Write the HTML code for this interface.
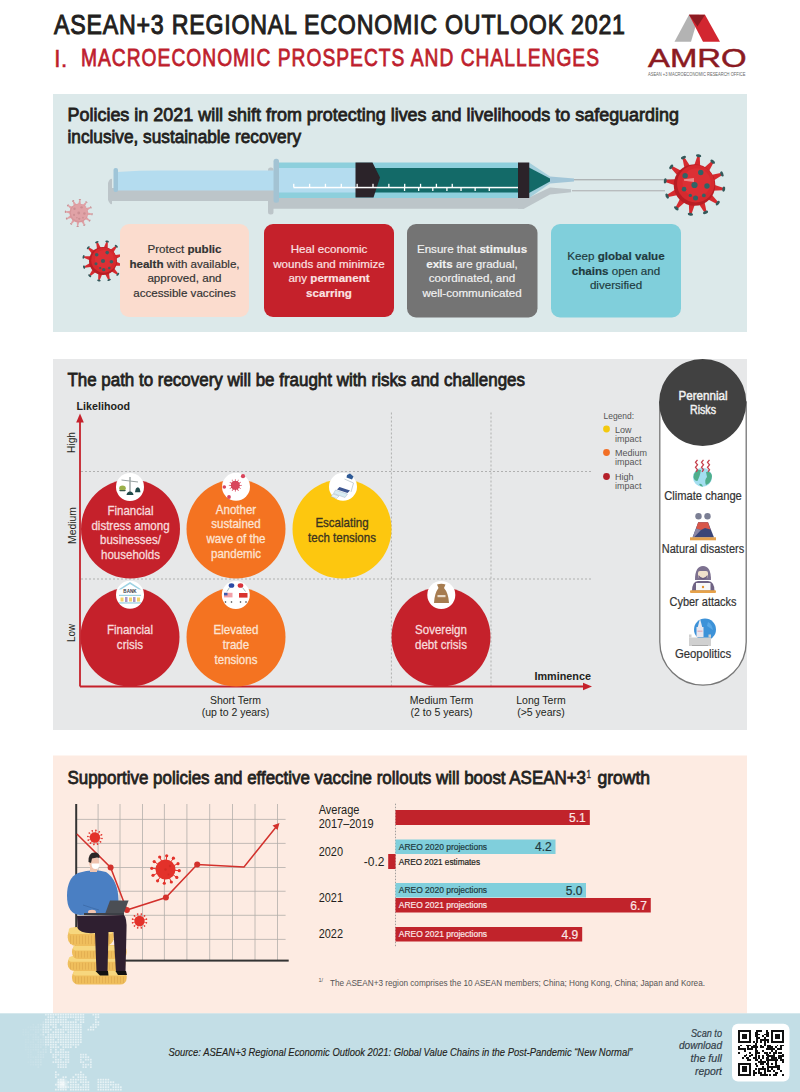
<!DOCTYPE html>
<html><head><meta charset="utf-8"><style>
html,body{margin:0;padding:0;background:#fff;}
svg{display:block;}
text{font-family:"Liberation Sans", sans-serif;}
</style></head><body>
<svg width="800" height="1092" viewBox="0 0 800 1092">
<rect x="0" y="0" width="800" height="1092" fill="#ffffff"/>
<rect x="53" y="94" width="694" height="238" fill="#dce9ea"/>
<rect x="53" y="359" width="694" height="371" fill="#e7e8e9"/>
<rect x="53" y="755.5" width="694" height="258" fill="#fdebe2"/>
<rect x="0" y="1013.3" width="800" height="78.7" fill="#c3dee6"/>
<text x="54" y="34.5" font-size="27" fill="#231f20" font-weight="normal" font-style="normal" text-anchor="start" textLength="663.95" lengthAdjust="spacing" transform="translate(54 0) scale(0.86 1) translate(-54 0)" stroke="#231f20" stroke-width="1.0">ASEAN+3 REGIONAL ECONOMIC OUTLOOK 2021</text>
<text x="54" y="66.5" font-size="24" fill="#be1e2d" font-weight="normal" font-style="normal" text-anchor="start" stroke="#be1e2d" stroke-width="0.4">I.</text>
<text x="81" y="66.5" font-size="24" fill="#be1e2d" font-weight="normal" font-style="normal" text-anchor="start" textLength="647.50" lengthAdjust="spacing" transform="translate(81 0) scale(0.8 1) translate(-81 0)" stroke="#be1e2d" stroke-width="0.8">MACROECONOMIC PROSPECTS AND CHALLENGES</text>
<polygon points="674.5,41.7 689,14.7 699,14.7 691,41.7" fill="#b3b3b3"/>
<polygon points="689,14.7 705,14.7 720,41.7 703,41.7" fill="#d22630"/>
<polygon points="689,14.7 705,14.7 697.5,26.5" fill="#8e1b22"/>
<text x="648" y="66.5" font-size="26" fill="#8b1a22" font-weight="normal" font-style="normal" text-anchor="start" textLength="98.5" lengthAdjust="spacingAndGlyphs" stroke="#8b1a22" stroke-width="0.5">AMRO</text>
<text x="648" y="75.5" font-size="4.6" fill="#666" font-weight="normal" font-style="normal" text-anchor="start" textLength="97.5" lengthAdjust="spacingAndGlyphs" >ASEAN +3 MACROECONOMIC RESEARCH OFFICE</text>
<text x="67.5" y="120.8" font-size="18.5" fill="#231f20" font-weight="normal" font-style="normal" text-anchor="start" textLength="611.5" lengthAdjust="spacingAndGlyphs" stroke="#231f20" stroke-width="0.8">Policies in 2021 will shift from protecting lives and livelihoods to safeguarding</text>
<text x="67.5" y="142.5" font-size="18.5" fill="#231f20" font-weight="normal" font-style="normal" text-anchor="start" textLength="233.5" lengthAdjust="spacingAndGlyphs" stroke="#231f20" stroke-width="0.8">inclusive, sustainable recovery</text>
<rect x="110" y="188" width="165" height="13" fill="#bcc5c9"/>
<path d="M108,183 Q110,178 112,179 L112,204 Q110,205 108,200 Z" fill="#bcc5c9"/>
<rect x="268" y="167.5" width="5.5" height="47" rx="2.5" fill="#bcc5c9"/>
<rect x="273" y="197.5" width="251" height="11.25" fill="#bcc5c9"/>
<polygon points="518,197.5 529,197.5 550,187.5 571,189.3 571,192.3 550,194.5 524,208.75 518,208.75" fill="#bcc5c9"/>
<rect x="572" y="190" width="93" height="1.4" fill="#b8bcbe"/>
<path d="M117,172 Q140,170.6 160,170.6 L274,170.6 L274,190.5 L117,190.5 Z" fill="#b4dcef"/>
<rect x="113.5" y="168" width="4.5" height="24" rx="2" fill="#9fc5d8"/>
<rect x="279" y="162.5" width="239.5" height="35.5" fill="#8dcfdc"/>
<rect x="279" y="168" width="77" height="24.5" fill="#b4dcef"/>
<rect x="372" y="168" width="147" height="24.5" fill="#136a68"/>
<polygon points="355.5,162.5 372.5,162.5 380,177.5 373.5,197.5 355.5,197.5" fill="#2b2329"/>
<rect x="273.5" y="158.7" width="5.5" height="44" rx="2.5" fill="#a3c3d3"/>
<rect x="293.5" y="186.8" width="225" height="1.5" fill="#ffffff"/>
<rect x="293.10" y="183.8" width="1.3" height="3.5" fill="#ffffff"/>
<rect x="308.95" y="183.8" width="1.3" height="3.5" fill="#ffffff"/>
<rect x="324.80" y="183.8" width="1.3" height="3.5" fill="#ffffff"/>
<rect x="340.65" y="183.8" width="1.3" height="3.5" fill="#ffffff"/>
<rect x="356.50" y="183.8" width="1.3" height="3.5" fill="#ffffff"/>
<rect x="372.35" y="183.8" width="1.3" height="3.5" fill="#ffffff"/>
<rect x="388.20" y="183.8" width="1.3" height="3.5" fill="#ffffff"/>
<rect x="404.05" y="183.8" width="1.3" height="3.5" fill="#ffffff"/>
<rect x="419.90" y="183.8" width="1.3" height="3.5" fill="#ffffff"/>
<rect x="435.75" y="183.8" width="1.3" height="3.5" fill="#ffffff"/>
<rect x="451.60" y="183.8" width="1.3" height="3.5" fill="#ffffff"/>
<rect x="403.90" y="187.5" width="1.3" height="3.5" fill="#ffffff"/>
<rect x="418.02" y="187.5" width="1.3" height="3.5" fill="#ffffff"/>
<rect x="432.14" y="187.5" width="1.3" height="3.5" fill="#ffffff"/>
<rect x="446.26" y="187.5" width="1.3" height="3.5" fill="#ffffff"/>
<rect x="460.38" y="187.5" width="1.3" height="3.5" fill="#ffffff"/>
<rect x="474.50" y="187.5" width="1.3" height="3.5" fill="#ffffff"/>
<rect x="488.62" y="187.5" width="1.3" height="3.5" fill="#ffffff"/>
<polygon points="529,162.5 550,176.5 550,183.5 529,198" fill="#a4cfdc"/>
<polygon points="529,167.5 550,178.5 550,181.5 529,193" fill="#136a68"/>
<rect x="518" y="162.5" width="11.25" height="35.5" fill="#2b2329"/>
<polygon points="550,176.5 574,178.6 574,181.4 550,183.5" fill="#a2c6d8"/>
<rect x="574" y="179" width="112" height="1.4" fill="#aeb3b5"/>
<g opacity="1"><polygon points="711.54,190.76 722.75,190.23 723.10,187.76 712.47,184.16" fill="#d62a2f"/><ellipse cx="723.75" cy="189.11" rx="2.70" ry="1.46" transform="rotate(98.0 723.75 189.11)" fill="#33595b"/><polygon points="706.38,198.51 716.35,203.66 717.89,201.69 710.48,193.26" fill="#d62a2f"/><ellipse cx="717.77" cy="203.18" rx="2.70" ry="1.46" transform="rotate(128.0 717.77 203.18)" fill="#33595b"/><polygon points="698.04,202.64 704.10,212.08 706.41,211.15 704.21,200.15" fill="#d62a2f"/><ellipse cx="705.56" cy="212.39" rx="2.70" ry="1.46" transform="rotate(158.0 705.56 212.39)" fill="#33595b"/><polygon points="688.74,202.04 689.27,213.25 691.74,213.60 695.34,202.97" fill="#d62a2f"/><ellipse cx="690.39" cy="214.25" rx="2.70" ry="1.46" transform="rotate(188.0 690.39 214.25)" fill="#33595b"/><polygon points="680.99,196.88 675.84,206.85 677.81,208.39 686.24,200.98" fill="#d62a2f"/><ellipse cx="676.32" cy="208.27" rx="2.70" ry="1.46" transform="rotate(218.0 676.32 208.27)" fill="#33595b"/><polygon points="676.86,188.54 667.42,194.60 668.35,196.91 679.35,194.71" fill="#d62a2f"/><ellipse cx="667.11" cy="196.06" rx="2.70" ry="1.46" transform="rotate(248.0 667.11 196.06)" fill="#33595b"/><polygon points="677.46,179.24 666.25,179.77 665.90,182.24 676.53,185.84" fill="#d62a2f"/><ellipse cx="665.25" cy="180.89" rx="2.70" ry="1.46" transform="rotate(278.0 665.25 180.89)" fill="#33595b"/><polygon points="682.62,171.49 672.65,166.34 671.11,168.31 678.52,176.74" fill="#d62a2f"/><ellipse cx="671.23" cy="166.82" rx="2.70" ry="1.46" transform="rotate(308.0 671.23 166.82)" fill="#33595b"/><polygon points="690.96,167.36 684.90,157.92 682.59,158.85 684.79,169.85" fill="#d62a2f"/><ellipse cx="683.44" cy="157.61" rx="2.70" ry="1.46" transform="rotate(338.0 683.44 157.61)" fill="#33595b"/><polygon points="700.26,167.96 699.73,156.75 697.26,156.40 693.66,167.03" fill="#d62a2f"/><ellipse cx="698.61" cy="155.75" rx="2.70" ry="1.46" transform="rotate(368.0 698.61 155.75)" fill="#33595b"/><polygon points="708.01,173.12 713.16,163.15 711.19,161.61 702.76,169.02" fill="#d62a2f"/><ellipse cx="712.68" cy="161.73" rx="2.70" ry="1.46" transform="rotate(398.0 712.68 161.73)" fill="#33595b"/><polygon points="712.14,181.46 721.58,175.40 720.65,173.09 709.65,175.29" fill="#d62a2f"/><ellipse cx="721.89" cy="173.94" rx="2.70" ry="1.46" transform="rotate(428.0 721.89 173.94)" fill="#33595b"/><circle cx="694.5" cy="185" r="20.8" fill="#b81d24"/><circle cx="695.75" cy="183.75" r="18.72" fill="#d62a2f"/><circle cx="696.58" cy="182.50" r="14.14" fill="#dc3035"/><circle cx="694.50" cy="185.00" r="3.12" fill="#2f6466"/><circle cx="685.14" cy="175.64" r="2.70" fill="#2f6466"/><circle cx="700.74" cy="172.52" r="2.70" fill="#2f6466"/><circle cx="706.98" cy="186.04" r="2.70" fill="#2f6466"/><circle cx="684.10" cy="189.16" r="2.29" fill="#2f6466"/><circle cx="695.54" cy="197.90" r="2.50" fill="#2f6466"/><circle cx="703.86" cy="195.40" r="1.87" fill="#2f6466"/><circle cx="690.34" cy="195.40" r="1.66" fill="#2f6466"/></g>
<polygon points="684,179.3 694,178 694,182 684,180.7" fill="#f0a0a0" opacity="0.8"/>
<g opacity="1"><polygon points="86.58,215.19 91.62,214.69 91.72,213.57 86.84,212.20" fill="#e0a2a6"/><ellipse cx="92.05" cy="214.16" rx="1.22" ry="0.66" transform="rotate(95.0 92.05 214.16)" fill="#c99094"/><polygon points="84.43,218.81 89.05,220.90 89.70,219.98 86.16,216.35" fill="#e0a2a6"/><ellipse cx="89.68" cy="220.66" rx="1.22" ry="0.66" transform="rotate(125.0 89.68 220.66)" fill="#c99094"/><polygon points="80.76,220.88 83.72,224.99 84.74,224.52 83.49,219.61" fill="#e0a2a6"/><ellipse cx="84.39" cy="225.10" rx="1.22" ry="0.66" transform="rotate(155.0 84.39 225.10)" fill="#c99094"/><polygon points="76.56,220.83 77.06,225.87 78.18,225.97 79.55,221.09" fill="#e0a2a6"/><ellipse cx="77.59" cy="226.30" rx="1.22" ry="0.66" transform="rotate(185.0 77.59 226.30)" fill="#c99094"/><polygon points="72.94,218.68 70.85,223.30 71.77,223.95 75.40,220.41" fill="#e0a2a6"/><ellipse cx="71.09" cy="223.93" rx="1.22" ry="0.66" transform="rotate(215.0 71.09 223.93)" fill="#c99094"/><polygon points="70.87,215.01 66.76,217.97 67.23,218.99 72.14,217.74" fill="#e0a2a6"/><ellipse cx="66.65" cy="218.64" rx="1.22" ry="0.66" transform="rotate(245.0 66.65 218.64)" fill="#c99094"/><polygon points="70.92,210.81 65.88,211.31 65.78,212.43 70.66,213.80" fill="#e0a2a6"/><ellipse cx="65.45" cy="211.84" rx="1.22" ry="0.66" transform="rotate(275.0 65.45 211.84)" fill="#c99094"/><polygon points="73.07,207.19 68.45,205.10 67.80,206.02 71.34,209.65" fill="#e0a2a6"/><ellipse cx="67.82" cy="205.34" rx="1.22" ry="0.66" transform="rotate(305.0 67.82 205.34)" fill="#c99094"/><polygon points="76.74,205.12 73.78,201.01 72.76,201.48 74.01,206.39" fill="#e0a2a6"/><ellipse cx="73.11" cy="200.90" rx="1.22" ry="0.66" transform="rotate(335.0 73.11 200.90)" fill="#c99094"/><polygon points="80.94,205.17 80.44,200.13 79.32,200.03 77.95,204.91" fill="#e0a2a6"/><ellipse cx="79.91" cy="199.70" rx="1.22" ry="0.66" transform="rotate(365.0 79.91 199.70)" fill="#c99094"/><polygon points="84.56,207.32 86.65,202.70 85.73,202.05 82.10,205.59" fill="#e0a2a6"/><ellipse cx="86.41" cy="202.07" rx="1.22" ry="0.66" transform="rotate(395.0 86.41 202.07)" fill="#c99094"/><polygon points="86.63,210.99 90.74,208.03 90.27,207.01 85.36,208.26" fill="#e0a2a6"/><ellipse cx="90.85" cy="207.36" rx="1.22" ry="0.66" transform="rotate(425.0 90.85 207.36)" fill="#c99094"/><circle cx="78.75" cy="213" r="9.4" fill="#d8969b"/><circle cx="79.31" cy="212.44" r="8.46" fill="#e0a2a6"/><circle cx="78.75" cy="213.00" r="1.41" fill="#cc8e93"/><circle cx="74.52" cy="208.77" r="1.22" fill="#cc8e93"/><circle cx="81.57" cy="207.36" r="1.22" fill="#cc8e93"/><circle cx="84.39" cy="213.47" r="1.22" fill="#cc8e93"/><circle cx="74.05" cy="214.88" r="1.03" fill="#cc8e93"/><circle cx="79.22" cy="218.83" r="1.13" fill="#cc8e93"/><circle cx="82.98" cy="217.70" r="0.85" fill="#cc8e93"/><circle cx="76.87" cy="217.70" r="0.75" fill="#cc8e93"/></g>
<g opacity="1"><polygon points="114.17,265.67 121.72,265.84 122.07,264.20 115.11,261.28" fill="#d62a2f"/><ellipse cx="122.45" cy="265.13" rx="1.82" ry="0.98" transform="rotate(102.0 122.45 265.13)" fill="#33595b"/><polygon points="110.34,270.63 116.80,274.55 117.92,273.30 113.34,267.30" fill="#d62a2f"/><ellipse cx="117.77" cy="274.30" rx="1.82" ry="0.98" transform="rotate(132.0 117.77 274.30)" fill="#33595b"/><polygon points="104.55,273.01 108.17,279.63 109.77,279.11 108.81,271.63" fill="#d62a2f"/><ellipse cx="109.14" cy="279.91" rx="1.82" ry="0.98" transform="rotate(162.0 109.14 279.91)" fill="#33595b"/><polygon points="98.33,272.17 98.16,279.72 99.80,280.07 102.72,273.11" fill="#d62a2f"/><ellipse cx="98.87" cy="280.45" rx="1.82" ry="0.98" transform="rotate(192.0 98.87 280.45)" fill="#33595b"/><polygon points="93.37,268.34 89.45,274.80 90.70,275.92 96.70,271.34" fill="#d62a2f"/><ellipse cx="89.70" cy="275.77" rx="1.82" ry="0.98" transform="rotate(222.0 89.70 275.77)" fill="#33595b"/><polygon points="90.99,262.55 84.37,266.17 84.89,267.77 92.37,266.81" fill="#d62a2f"/><ellipse cx="84.09" cy="267.14" rx="1.82" ry="0.98" transform="rotate(252.0 84.09 267.14)" fill="#33595b"/><polygon points="91.83,256.33 84.28,256.16 83.93,257.80 90.89,260.72" fill="#d62a2f"/><ellipse cx="83.55" cy="256.87" rx="1.82" ry="0.98" transform="rotate(282.0 83.55 256.87)" fill="#33595b"/><polygon points="95.66,251.37 89.20,247.45 88.08,248.70 92.66,254.70" fill="#d62a2f"/><ellipse cx="88.23" cy="247.70" rx="1.82" ry="0.98" transform="rotate(312.0 88.23 247.70)" fill="#33595b"/><polygon points="101.45,248.99 97.83,242.37 96.23,242.89 97.19,250.37" fill="#d62a2f"/><ellipse cx="96.86" cy="242.09" rx="1.82" ry="0.98" transform="rotate(342.0 96.86 242.09)" fill="#33595b"/><polygon points="107.67,249.83 107.84,242.28 106.20,241.93 103.28,248.89" fill="#d62a2f"/><ellipse cx="107.13" cy="241.55" rx="1.82" ry="0.98" transform="rotate(372.0 107.13 241.55)" fill="#33595b"/><polygon points="112.63,253.66 116.55,247.20 115.30,246.08 109.30,250.66" fill="#d62a2f"/><ellipse cx="116.30" cy="246.23" rx="1.82" ry="0.98" transform="rotate(402.0 116.30 246.23)" fill="#33595b"/><polygon points="115.01,259.45 121.63,255.83 121.11,254.23 113.63,255.19" fill="#d62a2f"/><ellipse cx="121.91" cy="254.86" rx="1.82" ry="0.98" transform="rotate(432.0 121.91 254.86)" fill="#33595b"/><circle cx="103" cy="261" r="14" fill="#b81d24"/><circle cx="103.84" cy="260.16" r="12.60" fill="#d62a2f"/><circle cx="104.40" cy="259.32" r="9.52" fill="#dc3035"/><circle cx="103.00" cy="261.00" r="2.10" fill="#3a5f62"/><circle cx="96.70" cy="254.70" r="1.82" fill="#3a5f62"/><circle cx="107.20" cy="252.60" r="1.82" fill="#3a5f62"/><circle cx="111.40" cy="261.70" r="1.82" fill="#3a5f62"/><circle cx="96.00" cy="263.80" r="1.54" fill="#3a5f62"/><circle cx="103.70" cy="269.68" r="1.68" fill="#3a5f62"/><circle cx="109.30" cy="268.00" r="1.26" fill="#3a5f62"/><circle cx="100.20" cy="268.00" r="1.12" fill="#3a5f62"/></g>
<rect x="120" y="224" width="129" height="93" rx="9" fill="#fbdcce"/>
<rect x="264" y="224" width="130" height="93" rx="9" fill="#c5212b"/>
<rect x="407" y="224" width="130.5" height="93.5" rx="9" fill="#747474"/>
<rect x="551" y="224" width="130" height="93.5" rx="9" fill="#80cfdb"/>
<text x="184.5" y="253" font-size="11.6" fill="#333333" stroke="#333333" stroke-width="0.18" text-anchor="middle"><tspan font-weight="normal">Protect </tspan><tspan font-weight="bold">public</tspan></text>
<text x="184.5" y="267.5" font-size="11.6" fill="#333333" stroke="#333333" stroke-width="0.18" text-anchor="middle"><tspan font-weight="bold">health</tspan><tspan font-weight="normal"> with available,</tspan></text>
<text x="184.5" y="282" font-size="11.6" fill="#333333" stroke="#333333" stroke-width="0.18" text-anchor="middle"><tspan font-weight="normal">approved, and</tspan></text>
<text x="184.5" y="296.5" font-size="11.6" fill="#333333" stroke="#333333" stroke-width="0.18" text-anchor="middle"><tspan font-weight="normal">accessible vaccines</tspan></text>
<text x="329" y="253" font-size="11.6" fill="#fbe3e3" stroke="#fbe3e3" stroke-width="0.18" text-anchor="middle"><tspan font-weight="normal">Heal economic</tspan></text>
<text x="329" y="267.5" font-size="11.6" fill="#fbe3e3" stroke="#fbe3e3" stroke-width="0.18" text-anchor="middle"><tspan font-weight="normal">wounds and minimize</tspan></text>
<text x="329" y="282" font-size="11.6" fill="#fbe3e3" stroke="#fbe3e3" stroke-width="0.18" text-anchor="middle"><tspan font-weight="normal">any </tspan><tspan font-weight="bold">permanent</tspan></text>
<text x="329" y="296.5" font-size="11.6" fill="#fbe3e3" stroke="#fbe3e3" stroke-width="0.18" text-anchor="middle"><tspan font-weight="bold">scarring</tspan></text>
<text x="472" y="253" font-size="11.6" fill="#f2f2f2" stroke="#f2f2f2" stroke-width="0.18" text-anchor="middle"><tspan font-weight="normal">Ensure that </tspan><tspan font-weight="bold">stimulus</tspan></text>
<text x="472" y="267.5" font-size="11.6" fill="#f2f2f2" stroke="#f2f2f2" stroke-width="0.18" text-anchor="middle"><tspan font-weight="bold">exits</tspan><tspan font-weight="normal"> are gradual,</tspan></text>
<text x="472" y="282" font-size="11.6" fill="#f2f2f2" stroke="#f2f2f2" stroke-width="0.18" text-anchor="middle"><tspan font-weight="normal">coordinated, and</tspan></text>
<text x="472" y="296.5" font-size="11.6" fill="#f2f2f2" stroke="#f2f2f2" stroke-width="0.18" text-anchor="middle"><tspan font-weight="normal">well-communicated</tspan></text>
<text x="616" y="260" font-size="11.6" fill="#1f3b40" stroke="#1f3b40" stroke-width="0.18" text-anchor="middle"><tspan font-weight="normal">Keep </tspan><tspan font-weight="bold">global value</tspan></text>
<text x="616" y="274.5" font-size="11.6" fill="#1f3b40" stroke="#1f3b40" stroke-width="0.18" text-anchor="middle"><tspan font-weight="bold">chains</tspan><tspan font-weight="normal"> open and</tspan></text>
<text x="616" y="289" font-size="11.6" fill="#1f3b40" stroke="#1f3b40" stroke-width="0.18" text-anchor="middle"><tspan font-weight="normal">diversified</tspan></text>
<text x="67.4" y="385.6" font-size="18.5" fill="#231f20" font-weight="normal" font-style="normal" text-anchor="start" textLength="457.6" lengthAdjust="spacingAndGlyphs" stroke="#231f20" stroke-width="0.8">The path to recovery will be fraught with risks and challenges</text>
<text x="76.6" y="409.6" font-size="11" fill="#231f20" font-weight="bold" font-style="normal" text-anchor="start" textLength="53.4" lengthAdjust="spacingAndGlyphs" >Likelihood</text>
<g stroke="#a5a5a5" stroke-width="0.85" stroke-dasharray="2,2" fill="none"><line x1="81" y1="471.5" x2="591" y2="471.5"/><line x1="81" y1="579" x2="591" y2="579"/><line x1="391.4" y1="412.5" x2="391.4" y2="686"/><line x1="491" y1="412.5" x2="491" y2="686"/></g>
<line x1="80" y1="420" x2="80" y2="686.5" stroke="#c5212b" stroke-width="1.8"/>
<polygon points="80,413.5 76.2,422.5 83.8,422.5" fill="#c5212b"/>
<line x1="80" y1="686.5" x2="585" y2="686.5" stroke="#c5212b" stroke-width="2"/>
<polygon points="592,686.5 583,682.7 583,690.3" fill="#c5212b"/>
<text x="0" y="0" transform="translate(75.2,442.5) rotate(-90)" font-size="10.5" fill="#231f20" text-anchor="middle" textLength="21" lengthAdjust="spacingAndGlyphs">High</text>
<text x="0" y="0" transform="translate(75.8,525.5) rotate(-90)" font-size="10.5" fill="#231f20" text-anchor="middle" textLength="37" lengthAdjust="spacingAndGlyphs">Medium</text>
<text x="0" y="0" transform="translate(75.2,633) rotate(-90)" font-size="10.5" fill="#231f20" text-anchor="middle" textLength="18" lengthAdjust="spacingAndGlyphs">Low</text>
<circle cx="130.5" cy="529" r="49.5" fill="#c5212b"/>
<text x="130.5" y="515.0" font-size="12.4" fill="#f8dadb" font-weight="normal" font-style="normal" text-anchor="middle" transform="translate(130.5 0) scale(0.93 1) translate(-130.5 0)" stroke="#f8dadb" stroke-width="0.3">Financial</text>
<text x="130.5" y="529.7" font-size="12.4" fill="#f8dadb" font-weight="normal" font-style="normal" text-anchor="middle" transform="translate(130.5 0) scale(0.93 1) translate(-130.5 0)" stroke="#f8dadb" stroke-width="0.3">distress among</text>
<text x="130.5" y="544.4" font-size="12.4" fill="#f8dadb" font-weight="normal" font-style="normal" text-anchor="middle" transform="translate(130.5 0) scale(0.93 1) translate(-130.5 0)" stroke="#f8dadb" stroke-width="0.3">businesses/</text>
<text x="130.5" y="559.1" font-size="12.4" fill="#f8dadb" font-weight="normal" font-style="normal" text-anchor="middle" transform="translate(130.5 0) scale(0.93 1) translate(-130.5 0)" stroke="#f8dadb" stroke-width="0.3">households</text>
<circle cx="236" cy="529" r="49.5" fill="#f47321"/>
<text x="236" y="513.8" font-size="12.4" fill="#fde3d3" font-weight="normal" font-style="normal" text-anchor="middle" transform="translate(236 0) scale(0.93 1) translate(-236 0)" stroke="#fde3d3" stroke-width="0.3">Another</text>
<text x="236" y="528.5" font-size="12.4" fill="#fde3d3" font-weight="normal" font-style="normal" text-anchor="middle" transform="translate(236 0) scale(0.93 1) translate(-236 0)" stroke="#fde3d3" stroke-width="0.3">sustained</text>
<text x="236" y="543.2" font-size="12.4" fill="#fde3d3" font-weight="normal" font-style="normal" text-anchor="middle" transform="translate(236 0) scale(0.93 1) translate(-236 0)" stroke="#fde3d3" stroke-width="0.3">wave of the</text>
<text x="236" y="557.9" font-size="12.4" fill="#fde3d3" font-weight="normal" font-style="normal" text-anchor="middle" transform="translate(236 0) scale(0.93 1) translate(-236 0)" stroke="#fde3d3" stroke-width="0.3">pandemic</text>
<circle cx="342" cy="529" r="49.5" fill="#fdc70f"/>
<text x="342" y="527.0" font-size="12.4" fill="#3a3320" font-weight="normal" font-style="normal" text-anchor="middle" transform="translate(342 0) scale(0.93 1) translate(-342 0)" stroke="#3a3320" stroke-width="0.3">Escalating</text>
<text x="342" y="541.7" font-size="12.4" fill="#3a3320" font-weight="normal" font-style="normal" text-anchor="middle" transform="translate(342 0) scale(0.93 1) translate(-342 0)" stroke="#3a3320" stroke-width="0.3">tech tensions</text>
<circle cx="130" cy="637" r="49.5" fill="#c5212b"/>
<text x="130" y="634.5" font-size="12.4" fill="#f8dadb" font-weight="normal" font-style="normal" text-anchor="middle" transform="translate(130 0) scale(0.93 1) translate(-130 0)" stroke="#f8dadb" stroke-width="0.3">Financial</text>
<text x="130" y="649.2" font-size="12.4" fill="#f8dadb" font-weight="normal" font-style="normal" text-anchor="middle" transform="translate(130 0) scale(0.93 1) translate(-130 0)" stroke="#f8dadb" stroke-width="0.3">crisis</text>
<circle cx="236" cy="637" r="49.5" fill="#f47321"/>
<text x="236" y="634.5" font-size="12.4" fill="#fde3d3" font-weight="normal" font-style="normal" text-anchor="middle" transform="translate(236 0) scale(0.93 1) translate(-236 0)" stroke="#fde3d3" stroke-width="0.3">Elevated</text>
<text x="236" y="649.2" font-size="12.4" fill="#fde3d3" font-weight="normal" font-style="normal" text-anchor="middle" transform="translate(236 0) scale(0.93 1) translate(-236 0)" stroke="#fde3d3" stroke-width="0.3">trade</text>
<text x="236" y="663.9" font-size="12.4" fill="#fde3d3" font-weight="normal" font-style="normal" text-anchor="middle" transform="translate(236 0) scale(0.93 1) translate(-236 0)" stroke="#fde3d3" stroke-width="0.3">tensions</text>
<circle cx="441" cy="637" r="49.5" fill="#c5212b"/>
<text x="441" y="634.5" font-size="12.4" fill="#f8dadb" font-weight="normal" font-style="normal" text-anchor="middle" transform="translate(441 0) scale(0.93 1) translate(-441 0)" stroke="#f8dadb" stroke-width="0.3">Sovereign</text>
<text x="441" y="649.2" font-size="12.4" fill="#f8dadb" font-weight="normal" font-style="normal" text-anchor="middle" transform="translate(441 0) scale(0.93 1) translate(-441 0)" stroke="#f8dadb" stroke-width="0.3">debt crisis</text>
<circle cx="130" cy="487" r="14" fill="#ffffff"/>
<circle cx="236" cy="486.8" r="14" fill="#ffffff"/>
<circle cx="343" cy="486.8" r="14" fill="#ffffff"/>
<circle cx="130" cy="594.8" r="14" fill="#ffffff"/>
<circle cx="235.8" cy="595" r="14" fill="#ffffff"/>
<circle cx="441.3" cy="595" r="14" fill="#ffffff"/>
<g><rect x="129.3" y="477" width="1.4" height="16" fill="#9aa3a3"/><line x1="121.5" y1="480" x2="138" y2="482" stroke="#9aa3a3" stroke-width="1"/><ellipse cx="122.5" cy="488.2" rx="3.3" ry="2.8" fill="#9bb04a"/><path d="M119,490 h7 l-1,1.2 h-5 z" fill="#3a5a4a"/><path d="M135,492.3 Q135.5,487.5 137.8,487.3 Q140,487.5 140.5,492.3 Z" fill="#1f4a4a"/><path d="M126.5,495 Q127,491.5 130,491.5 Q133,491.5 133.5,495 Z" fill="#1f4a4a"/></g>
<g opacity="1"><polygon points="238.96,486.09 241.23,485.66 241.23,485.14 238.96,484.71" fill="#d9455c"/><ellipse cx="241.41" cy="485.40" rx="0.56" ry="0.30" transform="rotate(90.0 241.41 485.40)" fill="#d9455c"/><polygon points="238.12,487.82 240.31,488.59 240.57,488.14 238.81,486.63" fill="#d9455c"/><ellipse cx="240.59" cy="488.45" rx="0.56" ry="0.30" transform="rotate(120.0 240.59 488.45)" fill="#d9455c"/><polygon points="236.53,488.91 238.04,490.67 238.49,490.41 237.72,488.22" fill="#d9455c"/><ellipse cx="238.35" cy="490.69" rx="0.56" ry="0.30" transform="rotate(150.0 238.35 490.69)" fill="#d9455c"/><polygon points="234.61,489.05 235.04,491.33 235.56,491.33 235.99,489.05" fill="#d9455c"/><ellipse cx="235.30" cy="491.51" rx="0.56" ry="0.30" transform="rotate(180.0 235.30 491.51)" fill="#d9455c"/><polygon points="232.88,488.22 232.11,490.41 232.56,490.67 234.07,488.91" fill="#d9455c"/><ellipse cx="232.25" cy="490.69" rx="0.56" ry="0.30" transform="rotate(210.0 232.25 490.69)" fill="#d9455c"/><polygon points="231.79,486.63 230.03,488.14 230.29,488.59 232.48,487.82" fill="#d9455c"/><ellipse cx="230.01" cy="488.45" rx="0.56" ry="0.30" transform="rotate(240.0 230.01 488.45)" fill="#d9455c"/><polygon points="231.65,484.71 229.37,485.14 229.37,485.66 231.65,486.09" fill="#d9455c"/><ellipse cx="229.19" cy="485.40" rx="0.56" ry="0.30" transform="rotate(270.0 229.19 485.40)" fill="#d9455c"/><polygon points="232.48,482.98 230.29,482.21 230.03,482.66 231.79,484.17" fill="#d9455c"/><ellipse cx="230.01" cy="482.35" rx="0.56" ry="0.30" transform="rotate(300.0 230.01 482.35)" fill="#d9455c"/><polygon points="234.07,481.89 232.56,480.13 232.11,480.39 232.88,482.58" fill="#d9455c"/><ellipse cx="232.25" cy="480.11" rx="0.56" ry="0.30" transform="rotate(330.0 232.25 480.11)" fill="#d9455c"/><polygon points="235.99,481.75 235.56,479.47 235.04,479.47 234.61,481.75" fill="#d9455c"/><ellipse cx="235.30" cy="479.29" rx="0.56" ry="0.30" transform="rotate(360.0 235.30 479.29)" fill="#d9455c"/><polygon points="237.72,482.58 238.49,480.39 238.04,480.13 236.53,481.89" fill="#d9455c"/><ellipse cx="238.35" cy="480.11" rx="0.56" ry="0.30" transform="rotate(390.0 238.35 480.11)" fill="#d9455c"/><polygon points="238.81,484.17 240.57,482.66 240.31,482.21 238.12,482.98" fill="#d9455c"/><ellipse cx="240.59" cy="482.35" rx="0.56" ry="0.30" transform="rotate(420.0 240.59 482.35)" fill="#d9455c"/><circle cx="235.3" cy="485.4" r="4.3" fill="#c93a50"/><circle cx="235.56" cy="485.14" r="3.87" fill="#d9455c"/></g>
<circle cx="243" cy="476.2" r="2.1" fill="#d9455c"/>
<circle cx="224.3" cy="487" r="1.8" fill="#d9455c"/>
<circle cx="229" cy="497" r="1.9" fill="#d9455c"/>
<g><polygon points="339.5,487 350,490.5 347.5,493 337,489.5" fill="#3c5590"/><polygon points="335.5,490 347.5,494 345,497.5 333.5,493.5" fill="#d8ecf3" stroke="#9ab" stroke-width="0.4"/><polygon points="333,494 339,496 336.5,498.5 331,496.5" fill="#e6f2f6" stroke="#9ab" stroke-width="0.4"/><line x1="344.5" y1="479" x2="353.5" y2="483" stroke="#b9c4cc" stroke-width="0.8"/><line x1="353.5" y1="483" x2="351" y2="492" stroke="#b9c4cc" stroke-width="0.8"/><polygon points="347,475 350,473.5 353.5,476.5 352,479.5 346.5,477.5" fill="#2e5a96"/></g>
<g><polygon points="118.5,589.5 130,582 141.5,589.5 139,589.5 130,584 121,589.5" fill="#9fd3e3"/><text x="130" y="593.2" font-size="4.6" font-weight="bold" fill="#3a3a4a" text-anchor="middle">BANK</text><rect x="119" y="594.8" width="22" height="1.2" fill="#9fd3e3"/><rect x="120.5" y="597.5" width="3" height="4" fill="#f3d36b"/><rect x="125" y="597" width="2.5" height="5" fill="#a99ac7"/><rect x="129" y="597.5" width="3" height="4" fill="#f3d36b"/><rect x="133" y="597" width="2.5" height="5" fill="#a99ac7"/><rect x="137" y="597.5" width="3" height="4" fill="#f3d36b"/><rect x="119" y="602.3" width="22" height="1.3" fill="#9fd3e3"/></g>
<g><ellipse cx="231.5" cy="585.5" rx="2.8" ry="2.3" fill="#2b4aa5"/><line x1="229.5" y1="587.5" x2="227" y2="591.5" stroke="#8aa" stroke-width="0.8"/><ellipse cx="240.5" cy="585.5" rx="2.8" ry="2.3" fill="#d8323a"/><line x1="242.5" y1="587.5" x2="245.5" y2="591.5" stroke="#8aa" stroke-width="0.8"/><rect x="224" y="592.8" width="8.5" height="4.6" fill="#f2a0a8"/><rect x="224" y="592.8" width="3.5" height="2.6" fill="#3c5db0"/><rect x="239" y="593" width="8.5" height="4.6" fill="#d9332e"/><circle cx="225.5" cy="602" r="0.8" fill="#333"/><circle cx="231.5" cy="602" r="0.8" fill="#333"/><circle cx="240.5" cy="602" r="0.8" fill="#333"/><circle cx="246" cy="602" r="0.8" fill="#333"/></g>
<g><path d="M437,584.5 Q441.5,583 445.5,584.5 L444,588 Q448.5,593 449,603 L434,603 Q434.5,593 438.5,588 Z" fill="#a67c50"/><rect x="437.5" y="595" width="8" height="2.2" fill="#e9dccb"/></g>
<text x="235.5" y="703.5" font-size="10.5" fill="#231f20" font-weight="normal" font-style="normal" text-anchor="middle" >Short Term</text>
<text x="235.5" y="716" font-size="10.5" fill="#231f20" font-weight="normal" font-style="normal" text-anchor="middle" >(up to 2 years)</text>
<text x="441.5" y="703.5" font-size="10.5" fill="#231f20" font-weight="normal" font-style="normal" text-anchor="middle" >Medium Term</text>
<text x="441.5" y="716" font-size="10.5" fill="#231f20" font-weight="normal" font-style="normal" text-anchor="middle" >(2 to 5 years)</text>
<text x="541" y="703.5" font-size="10.5" fill="#231f20" font-weight="normal" font-style="normal" text-anchor="middle" >Long Term</text>
<text x="541" y="716" font-size="10.5" fill="#231f20" font-weight="normal" font-style="normal" text-anchor="middle" >(>5 years)</text>
<text x="591" y="679.5" font-size="11" fill="#231f20" font-weight="bold" font-style="normal" text-anchor="end" textLength="56.5" lengthAdjust="spacingAndGlyphs" >Imminence</text>
<text x="603.5" y="418.5" font-size="9" fill="#555555" font-weight="normal" font-style="normal" text-anchor="start" textLength="30.5" lengthAdjust="spacingAndGlyphs" >Legend:</text>
<circle cx="606.5" cy="429" r="3.4" fill="#f3c90f"/>
<text x="615" y="432.5" font-size="9" fill="#555555" font-weight="normal" font-style="normal" text-anchor="start" >Low</text>
<text x="615" y="441.5" font-size="9" fill="#555555" font-weight="normal" font-style="normal" text-anchor="start" >impact</text>
<circle cx="606.5" cy="452.5" r="3.4" fill="#f26f26"/>
<text x="615" y="456.0" font-size="9" fill="#555555" font-weight="normal" font-style="normal" text-anchor="start" >Medium</text>
<text x="615" y="465.0" font-size="9" fill="#555555" font-weight="normal" font-style="normal" text-anchor="start" >impact</text>
<circle cx="606.5" cy="476.5" r="3.4" fill="#b5202a"/>
<text x="615" y="480.0" font-size="9" fill="#555555" font-weight="normal" font-style="normal" text-anchor="start" >High</text>
<text x="615" y="489.0" font-size="9" fill="#555555" font-weight="normal" font-style="normal" text-anchor="start" >impact</text>
<path d="M659.8,402 L659.8,642 A43.2,43.2 0 0 0 746.2,642 L746.2,402 Z" fill="#ffffff" stroke="#777777" stroke-width="1.3"/>
<circle cx="702.7" cy="402.5" r="43.6" fill="#414141"/>
<text x="703" y="399.7" font-size="12.5" fill="#f2f2f2" font-weight="normal" font-style="normal" text-anchor="middle" textLength="49" lengthAdjust="spacingAndGlyphs" stroke="#f2f2f2" stroke-width="0.45">Perennial</text>
<text x="703" y="414" font-size="12.5" fill="#f2f2f2" font-weight="normal" font-style="normal" text-anchor="middle" textLength="26" lengthAdjust="spacingAndGlyphs" stroke="#f2f2f2" stroke-width="0.45">Risks</text>
<text x="703" y="499.5" font-size="12" fill="#333333" font-weight="normal" font-style="normal" text-anchor="middle" textLength="77.7" lengthAdjust="spacingAndGlyphs" stroke="#333333" stroke-width="0.2">Climate change</text>
<text x="703" y="552.5" font-size="12" fill="#333333" font-weight="normal" font-style="normal" text-anchor="middle" textLength="82.3" lengthAdjust="spacingAndGlyphs" stroke="#333333" stroke-width="0.2">Natural disasters</text>
<text x="703" y="606" font-size="12" fill="#333333" font-weight="normal" font-style="normal" text-anchor="middle" textLength="67" lengthAdjust="spacingAndGlyphs" stroke="#333333" stroke-width="0.2">Cyber attacks</text>
<text x="703" y="658" font-size="12" fill="#333333" font-weight="normal" font-style="normal" text-anchor="middle" textLength="56.2" lengthAdjust="spacingAndGlyphs" stroke="#333333" stroke-width="0.2">Geopolitics</text>
<g><circle cx="702.5" cy="477.3" r="9.5" fill="#a3def0"/><path d="M694,474 Q697,468.5 701,470 Q700,476 697.5,481 Q694,481 693.5,477 Z" fill="#4fae8c"/><path d="M706,472 Q711,471 712,476 Q711.5,483 706,485 Q704,480 707,477 Z" fill="#4fae8c"/><path d="M699,484 Q702,483 703,486.7 Q700,486.5 699,484 Z" fill="#4fae8c"/></g>
<path d="M697.5,459.8 l-2,2.5 l2,2.5 l-2,2.5 l2,2.5 l-1.5,2" fill="none" stroke="#c6404d" stroke-width="1.3"/>
<path d="M703.5,459.8 l-2,2.5 l2,2.5 l-2,2.5 l2,2.5 l-1.5,2" fill="none" stroke="#c6404d" stroke-width="1.3"/>
<path d="M709.5,459.8 l-2,2.5 l2,2.5 l-2,2.5 l2,2.5 l-1.5,2" fill="none" stroke="#c6404d" stroke-width="1.3"/>
<g><circle cx="698.5" cy="516.3" r="3.2" fill="#7b7f94"/><circle cx="707.5" cy="516.3" r="3.2" fill="#7b7f94"/><polygon points="698.2,522.3 708,522.3 714,537.5 692.5,537.5" fill="#3b4677"/><polygon points="698.2,522.3 708,522.3 710.5,529.5 705,528 701,530 696,528.5" fill="#d8574a"/><polygon points="696,528.5 701,530 694,537.5 692.5,537.5" fill="#8a86a6"/><rect x="690" y="537.3" width="26" height="3" fill="#e3a04c"/></g>
<g><path d="M695,580 Q695,566 703,566 Q711,566 711,580 Z" fill="#7d7190"/><rect x="698" y="571" width="10" height="7" rx="2" fill="#f1e1cc"/><path d="M698.5,575 Q703,581 707.5,575 L707.5,577 Q703,582 698.5,577 Z" fill="#6a5c80"/><path d="M692,591 Q692,581.5 698,581 L708,581 Q714.5,581.5 714.5,591 Z" fill="#6f6384"/><rect x="696" y="583" width="14.5" height="7.5" fill="#f8f8f8"/><circle cx="703" cy="587" r="1.2" fill="#e3902e"/><rect x="690" y="590.3" width="26" height="2.8" rx="1" fill="#e6a24a"/></g>
<g><circle cx="705" cy="629.5" r="11" fill="#3d92d8"/><path d="M708,622 Q712,624 713,630 Q710,628 707,626 Z" fill="#5aa8e6"/><polygon points="700,618.5 702.2,627 697.8,627" fill="#ececf2"/><rect x="696.5" y="627" width="7" height="10" fill="#e8e6ee"/><rect x="697.5" y="630.5" width="5" height="1.5" fill="#e3b7c4"/><rect x="689" y="637.5" width="22" height="8.5" fill="#d0d0d0"/><rect x="689" y="634.5" width="2.5" height="3" fill="#d0d0d0"/><rect x="708.5" y="634.5" width="2.5" height="3" fill="#d0d0d0"/><rect x="692" y="645" width="16" height="1" fill="#aaa"/></g>
<text x="67.5" y="784.3" font-size="18.5" fill="#231f20" font-weight="normal" font-style="normal" text-anchor="start" textLength="518.5" lengthAdjust="spacingAndGlyphs" stroke="#231f20" stroke-width="0.8">Supportive policies and effective vaccine rollouts will boost ASEAN+3</text>
<text x="586.5" y="777.5" font-size="11" fill="#231f20" stroke="#231f20" stroke-width="0.35" textLength="4.5" lengthAdjust="spacingAndGlyphs">1</text>
<text x="597.5" y="784.3" font-size="18.5" fill="#231f20" font-weight="normal" font-style="normal" text-anchor="start" textLength="52.5" lengthAdjust="spacingAndGlyphs" stroke="#231f20" stroke-width="0.8">growth</text>
<g stroke="#b3aeab" stroke-width="0.8"><line x1="98.1" y1="804" x2="98.1" y2="960"/><line x1="120" y1="804" x2="120" y2="960"/><line x1="142.5" y1="804" x2="142.5" y2="960"/><line x1="164.4" y1="804" x2="164.4" y2="960"/><line x1="186.9" y1="804" x2="186.9" y2="960"/><line x1="209.7" y1="804" x2="209.7" y2="960"/><line x1="232.5" y1="804" x2="232.5" y2="960"/><line x1="255" y1="804" x2="255" y2="960"/><line x1="277.5" y1="804" x2="277.5" y2="960"/><line x1="76" y1="819.4" x2="285.6" y2="819.4"/><line x1="76" y1="843.4" x2="285.6" y2="843.4"/><line x1="76" y1="867.5" x2="285.6" y2="867.5"/><line x1="76" y1="891.25" x2="285.6" y2="891.25"/><line x1="76" y1="915.3" x2="285.6" y2="915.3"/><line x1="76" y1="939.4" x2="285.6" y2="939.4"/></g>
<rect x="75.2" y="804" width="2" height="157.5" fill="#333333"/>
<rect x="75.2" y="959.6" width="213.5" height="2" fill="#333333"/>
<polyline points="76.9,834 110.6,867.5 126.9,910 165.9,897.5 197.2,864.4 244,866.9 276.5,826.5" fill="none" stroke="#d3312c" stroke-width="1.5"/>
<polygon points="279.5,823 272.5,825.5 277.5,830" fill="#d3312c"/>
<circle cx="110.6" cy="867.5" r="3" fill="#d3312c"/>
<circle cx="126.9" cy="910" r="3" fill="#d3312c"/>
<circle cx="165.9" cy="897.5" r="3" fill="#d3312c"/>
<circle cx="197.2" cy="864.4" r="3" fill="#d3312c"/>
<g><line x1="99.53" y1="838.15" x2="101.70" y2="838.46" stroke="#e3312a" stroke-width="0.60"/><circle cx="102.01" cy="838.50" r="0.83" fill="#e3312a"/><line x1="98.59" y1="840.38" x2="100.31" y2="841.73" stroke="#e3312a" stroke-width="0.60"/><circle cx="100.55" cy="841.92" r="0.83" fill="#e3312a"/><line x1="96.65" y1="841.84" x2="97.47" y2="843.86" stroke="#e3312a" stroke-width="0.60"/><circle cx="97.59" cy="844.15" r="0.83" fill="#e3312a"/><line x1="94.25" y1="842.13" x2="93.94" y2="844.30" stroke="#e3312a" stroke-width="0.60"/><circle cx="93.90" cy="844.61" r="0.83" fill="#e3312a"/><line x1="92.02" y1="841.19" x2="90.67" y2="842.91" stroke="#e3312a" stroke-width="0.60"/><circle cx="90.48" cy="843.15" r="0.83" fill="#e3312a"/><line x1="90.56" y1="839.25" x2="88.54" y2="840.07" stroke="#e3312a" stroke-width="0.60"/><circle cx="88.25" cy="840.19" r="0.83" fill="#e3312a"/><line x1="90.27" y1="836.85" x2="88.10" y2="836.54" stroke="#e3312a" stroke-width="0.60"/><circle cx="87.79" cy="836.50" r="0.83" fill="#e3312a"/><line x1="91.21" y1="834.62" x2="89.49" y2="833.27" stroke="#e3312a" stroke-width="0.60"/><circle cx="89.25" cy="833.08" r="0.83" fill="#e3312a"/><line x1="93.15" y1="833.16" x2="92.33" y2="831.14" stroke="#e3312a" stroke-width="0.60"/><circle cx="92.21" cy="830.85" r="0.83" fill="#e3312a"/><line x1="95.55" y1="832.87" x2="95.86" y2="830.70" stroke="#e3312a" stroke-width="0.60"/><circle cx="95.90" cy="830.39" r="0.83" fill="#e3312a"/><line x1="97.78" y1="833.81" x2="99.13" y2="832.09" stroke="#e3312a" stroke-width="0.60"/><circle cx="99.32" cy="831.85" r="0.83" fill="#e3312a"/><line x1="99.24" y1="835.75" x2="101.26" y2="834.93" stroke="#e3312a" stroke-width="0.60"/><circle cx="101.55" cy="834.81" r="0.83" fill="#e3312a"/><circle cx="94.9" cy="837.5" r="5.2" fill="#e3312a"/></g>
<g><line x1="174.47" y1="870.28" x2="178.65" y2="870.65" stroke="#e3312a" stroke-width="1.00"/><circle cx="179.25" cy="870.70" r="1.60" fill="#e3312a"/><line x1="172.87" y1="874.66" x2="176.31" y2="877.07" stroke="#e3312a" stroke-width="1.00"/><circle cx="176.80" cy="877.42" r="1.60" fill="#e3312a"/><line x1="169.30" y1="877.66" x2="171.08" y2="881.46" stroke="#e3312a" stroke-width="1.00"/><circle cx="171.33" cy="882.01" r="1.60" fill="#e3312a"/><line x1="164.72" y1="878.47" x2="164.35" y2="882.65" stroke="#e3312a" stroke-width="1.00"/><circle cx="164.30" cy="883.25" r="1.60" fill="#e3312a"/><line x1="160.34" y1="876.87" x2="157.93" y2="880.31" stroke="#e3312a" stroke-width="1.00"/><circle cx="157.58" cy="880.80" r="1.60" fill="#e3312a"/><line x1="157.34" y1="873.30" x2="153.54" y2="875.08" stroke="#e3312a" stroke-width="1.00"/><circle cx="152.99" cy="875.33" r="1.60" fill="#e3312a"/><line x1="156.53" y1="868.72" x2="152.35" y2="868.35" stroke="#e3312a" stroke-width="1.00"/><circle cx="151.75" cy="868.30" r="1.60" fill="#e3312a"/><line x1="158.13" y1="864.34" x2="154.69" y2="861.93" stroke="#e3312a" stroke-width="1.00"/><circle cx="154.20" cy="861.58" r="1.60" fill="#e3312a"/><line x1="161.70" y1="861.34" x2="159.92" y2="857.54" stroke="#e3312a" stroke-width="1.00"/><circle cx="159.67" cy="856.99" r="1.60" fill="#e3312a"/><line x1="166.28" y1="860.53" x2="166.65" y2="856.35" stroke="#e3312a" stroke-width="1.00"/><circle cx="166.70" cy="855.75" r="1.60" fill="#e3312a"/><line x1="170.66" y1="862.13" x2="173.07" y2="858.69" stroke="#e3312a" stroke-width="1.00"/><circle cx="173.42" cy="858.20" r="1.60" fill="#e3312a"/><line x1="173.66" y1="865.70" x2="177.46" y2="863.92" stroke="#e3312a" stroke-width="1.00"/><circle cx="178.01" cy="863.67" r="1.60" fill="#e3312a"/><circle cx="165.5" cy="869.5" r="10" fill="#e3312a"/><circle cx="165.50" cy="869.50" r="1.20" fill="#c9281f" opacity="0.6"/><circle cx="170.00" cy="866.00" r="1.20" fill="#c9281f" opacity="0.6"/><circle cx="168.50" cy="874.50" r="1.00" fill="#c9281f" opacity="0.6"/></g>
<g><line x1="144.02" y1="922.21" x2="146.13" y2="922.78" stroke="#e3312a" stroke-width="0.60"/><circle cx="146.43" cy="922.86" r="0.83" fill="#e3312a"/><line x1="142.81" y1="924.31" x2="144.35" y2="925.85" stroke="#e3312a" stroke-width="0.60"/><circle cx="144.57" cy="926.07" r="0.83" fill="#e3312a"/><line x1="140.71" y1="925.52" x2="141.28" y2="927.63" stroke="#e3312a" stroke-width="0.60"/><circle cx="141.36" cy="927.93" r="0.83" fill="#e3312a"/><line x1="138.29" y1="925.52" x2="137.72" y2="927.63" stroke="#e3312a" stroke-width="0.60"/><circle cx="137.64" cy="927.93" r="0.83" fill="#e3312a"/><line x1="136.19" y1="924.31" x2="134.65" y2="925.85" stroke="#e3312a" stroke-width="0.60"/><circle cx="134.43" cy="926.07" r="0.83" fill="#e3312a"/><line x1="134.98" y1="922.21" x2="132.87" y2="922.78" stroke="#e3312a" stroke-width="0.60"/><circle cx="132.57" cy="922.86" r="0.83" fill="#e3312a"/><line x1="134.98" y1="919.79" x2="132.87" y2="919.22" stroke="#e3312a" stroke-width="0.60"/><circle cx="132.57" cy="919.14" r="0.83" fill="#e3312a"/><line x1="136.19" y1="917.69" x2="134.65" y2="916.15" stroke="#e3312a" stroke-width="0.60"/><circle cx="134.43" cy="915.93" r="0.83" fill="#e3312a"/><line x1="138.29" y1="916.48" x2="137.72" y2="914.37" stroke="#e3312a" stroke-width="0.60"/><circle cx="137.64" cy="914.07" r="0.83" fill="#e3312a"/><line x1="140.71" y1="916.48" x2="141.28" y2="914.37" stroke="#e3312a" stroke-width="0.60"/><circle cx="141.36" cy="914.07" r="0.83" fill="#e3312a"/><line x1="142.81" y1="917.69" x2="144.35" y2="916.15" stroke="#e3312a" stroke-width="0.60"/><circle cx="144.57" cy="915.93" r="0.83" fill="#e3312a"/><line x1="144.02" y1="919.79" x2="146.13" y2="919.22" stroke="#e3312a" stroke-width="0.60"/><circle cx="146.43" cy="919.14" r="0.83" fill="#e3312a"/><circle cx="139.5" cy="921" r="5.2" fill="#e3312a"/></g>
<rect x="72" y="970" width="54.7" height="14.600000000000023" rx="6.6" fill="#efbe5c"/>
<rect x="73" y="970.5" width="52.7" height="5.1" rx="2.5" fill="#f7d77e"/>
<rect x="75" y="976.6" width="0.7" height="6.6" fill="#d9a148" opacity="0.7"/>
<rect x="78" y="976.6" width="0.7" height="6.6" fill="#d9a148" opacity="0.7"/>
<rect x="81" y="976.6" width="0.7" height="6.6" fill="#d9a148" opacity="0.7"/>
<rect x="84" y="976.6" width="0.7" height="6.6" fill="#d9a148" opacity="0.7"/>
<rect x="87" y="976.6" width="0.7" height="6.6" fill="#d9a148" opacity="0.7"/>
<rect x="90" y="976.6" width="0.7" height="6.6" fill="#d9a148" opacity="0.7"/>
<rect x="93" y="976.6" width="0.7" height="6.6" fill="#d9a148" opacity="0.7"/>
<rect x="96" y="976.6" width="0.7" height="6.6" fill="#d9a148" opacity="0.7"/>
<rect x="99" y="976.6" width="0.7" height="6.6" fill="#d9a148" opacity="0.7"/>
<rect x="102" y="976.6" width="0.7" height="6.6" fill="#d9a148" opacity="0.7"/>
<rect x="105" y="976.6" width="0.7" height="6.6" fill="#d9a148" opacity="0.7"/>
<rect x="108" y="976.6" width="0.7" height="6.6" fill="#d9a148" opacity="0.7"/>
<rect x="111" y="976.6" width="0.7" height="6.6" fill="#d9a148" opacity="0.7"/>
<rect x="114" y="976.6" width="0.7" height="6.6" fill="#d9a148" opacity="0.7"/>
<rect x="117" y="976.6" width="0.7" height="6.6" fill="#d9a148" opacity="0.7"/>
<rect x="120" y="976.6" width="0.7" height="6.6" fill="#d9a148" opacity="0.7"/>
<rect x="123" y="976.6" width="0.7" height="6.6" fill="#d9a148" opacity="0.7"/>
<rect x="67.7" y="956" width="57.7" height="15" rx="6.8" fill="#efbe5c"/>
<rect x="68.7" y="956.5" width="55.7" height="5.2" rx="2.6" fill="#f7d77e"/>
<rect x="70" y="962.8" width="0.7" height="6.8" fill="#d9a148" opacity="0.7"/>
<rect x="73" y="962.8" width="0.7" height="6.8" fill="#d9a148" opacity="0.7"/>
<rect x="76" y="962.8" width="0.7" height="6.8" fill="#d9a148" opacity="0.7"/>
<rect x="79" y="962.8" width="0.7" height="6.8" fill="#d9a148" opacity="0.7"/>
<rect x="82" y="962.8" width="0.7" height="6.8" fill="#d9a148" opacity="0.7"/>
<rect x="85" y="962.8" width="0.7" height="6.8" fill="#d9a148" opacity="0.7"/>
<rect x="88" y="962.8" width="0.7" height="6.8" fill="#d9a148" opacity="0.7"/>
<rect x="91" y="962.8" width="0.7" height="6.8" fill="#d9a148" opacity="0.7"/>
<rect x="94" y="962.8" width="0.7" height="6.8" fill="#d9a148" opacity="0.7"/>
<rect x="97" y="962.8" width="0.7" height="6.8" fill="#d9a148" opacity="0.7"/>
<rect x="100" y="962.8" width="0.7" height="6.8" fill="#d9a148" opacity="0.7"/>
<rect x="103" y="962.8" width="0.7" height="6.8" fill="#d9a148" opacity="0.7"/>
<rect x="106" y="962.8" width="0.7" height="6.8" fill="#d9a148" opacity="0.7"/>
<rect x="109" y="962.8" width="0.7" height="6.8" fill="#d9a148" opacity="0.7"/>
<rect x="112" y="962.8" width="0.7" height="6.8" fill="#d9a148" opacity="0.7"/>
<rect x="115" y="962.8" width="0.7" height="6.8" fill="#d9a148" opacity="0.7"/>
<rect x="118" y="962.8" width="0.7" height="6.8" fill="#d9a148" opacity="0.7"/>
<rect x="121" y="962.8" width="0.7" height="6.8" fill="#d9a148" opacity="0.7"/>
<rect x="72" y="945" width="54.7" height="14" rx="6.4" fill="#efbe5c"/>
<rect x="73" y="945.5" width="52.7" height="4.9" rx="2.4" fill="#f7d77e"/>
<rect x="75" y="951.3" width="0.7" height="6.3" fill="#d9a148" opacity="0.7"/>
<rect x="78" y="951.3" width="0.7" height="6.3" fill="#d9a148" opacity="0.7"/>
<rect x="81" y="951.3" width="0.7" height="6.3" fill="#d9a148" opacity="0.7"/>
<rect x="84" y="951.3" width="0.7" height="6.3" fill="#d9a148" opacity="0.7"/>
<rect x="87" y="951.3" width="0.7" height="6.3" fill="#d9a148" opacity="0.7"/>
<rect x="90" y="951.3" width="0.7" height="6.3" fill="#d9a148" opacity="0.7"/>
<rect x="93" y="951.3" width="0.7" height="6.3" fill="#d9a148" opacity="0.7"/>
<rect x="96" y="951.3" width="0.7" height="6.3" fill="#d9a148" opacity="0.7"/>
<rect x="99" y="951.3" width="0.7" height="6.3" fill="#d9a148" opacity="0.7"/>
<rect x="102" y="951.3" width="0.7" height="6.3" fill="#d9a148" opacity="0.7"/>
<rect x="105" y="951.3" width="0.7" height="6.3" fill="#d9a148" opacity="0.7"/>
<rect x="108" y="951.3" width="0.7" height="6.3" fill="#d9a148" opacity="0.7"/>
<rect x="111" y="951.3" width="0.7" height="6.3" fill="#d9a148" opacity="0.7"/>
<rect x="114" y="951.3" width="0.7" height="6.3" fill="#d9a148" opacity="0.7"/>
<rect x="117" y="951.3" width="0.7" height="6.3" fill="#d9a148" opacity="0.7"/>
<rect x="120" y="951.3" width="0.7" height="6.3" fill="#d9a148" opacity="0.7"/>
<rect x="123" y="951.3" width="0.7" height="6.3" fill="#d9a148" opacity="0.7"/>
<rect x="67.7" y="927" width="46.099999999999994" height="19" rx="8.6" fill="#efbe5c"/>
<rect x="68.7" y="927.5" width="44.099999999999994" height="6.6" rx="3.2" fill="#f7d77e"/>
<rect x="70" y="935.5" width="0.7" height="8.6" fill="#d9a148" opacity="0.7"/>
<rect x="73" y="935.5" width="0.7" height="8.6" fill="#d9a148" opacity="0.7"/>
<rect x="76" y="935.5" width="0.7" height="8.6" fill="#d9a148" opacity="0.7"/>
<rect x="79" y="935.5" width="0.7" height="8.6" fill="#d9a148" opacity="0.7"/>
<rect x="82" y="935.5" width="0.7" height="8.6" fill="#d9a148" opacity="0.7"/>
<rect x="85" y="935.5" width="0.7" height="8.6" fill="#d9a148" opacity="0.7"/>
<rect x="88" y="935.5" width="0.7" height="8.6" fill="#d9a148" opacity="0.7"/>
<rect x="91" y="935.5" width="0.7" height="8.6" fill="#d9a148" opacity="0.7"/>
<rect x="94" y="935.5" width="0.7" height="8.6" fill="#d9a148" opacity="0.7"/>
<rect x="97" y="935.5" width="0.7" height="8.6" fill="#d9a148" opacity="0.7"/>
<rect x="100" y="935.5" width="0.7" height="8.6" fill="#d9a148" opacity="0.7"/>
<rect x="103" y="935.5" width="0.7" height="8.6" fill="#d9a148" opacity="0.7"/>
<rect x="106" y="935.5" width="0.7" height="8.6" fill="#d9a148" opacity="0.7"/>
<rect x="109" y="935.5" width="0.7" height="8.6" fill="#d9a148" opacity="0.7"/>
<g><path d="M77,916 L124,915 Q127,918 126.5,930 L125.5,972 L116,972 L113.5,932 L108.5,932 L107.5,972 L96.5,972 L95,933 Q80,934 77.5,928 Z" fill="#2f1f30"/><path d="M95.5,971 L108,971 L108.5,975.5 L100,975.5 Z" fill="#111"/><path d="M115.5,971 L126,971 L127,975 L118,975 Z" fill="#111"/><path d="M78,873 Q93,868 106,872 Q118,880 118.5,900 L118,913 L80,915 Q67,914 67,896 Q67,878 78,873 Z" fill="#4a7fc3"/><path d="M83,905 Q92,908 99,910" fill="none" stroke="#3b6aa6" stroke-width="0.8"/><rect x="90" y="865" width="7" height="7" fill="#f0c4b0"/><ellipse cx="94" cy="862.5" rx="5" ry="6" fill="#f0c4b0"/><path d="M88.5,862 Q88,852.5 94.5,852.5 Q100,852.5 99.5,858 L97,857.5 L92,858.5 L91,863 Z" fill="#2a2727"/><path d="M91.5,863.5 L99.5,863.5 Q99.5,869 95.5,869 Q91.5,869 91.5,863.5 Z" fill="#ffffff"/><ellipse cx="92" cy="912" rx="4" ry="2.3" fill="#f0c4b0"/><polygon points="110,900.6 128.6,900.6 123.5,914 105,914" fill="#4b4e54"/><rect x="84" y="913" width="40" height="2" fill="#3d4046"/></g>
<line x1="395.5" y1="803.7" x2="395.5" y2="947.5" stroke="#8a8a8a" stroke-width="0.8" stroke-dasharray="1.5,1.5"/>
<rect x="395.5" y="810" width="194.31" height="15" fill="#c1232b"/>
<rect x="395.5" y="839.5" width="160.02" height="14.5" fill="#80cfdc"/>
<rect x="395.5" y="883" width="190.50" height="14.5" fill="#80cfdc"/>
<rect x="395.5" y="898" width="255.27" height="14.5" fill="#c1232b"/>
<rect x="395.5" y="927" width="186.69" height="14.5" fill="#c1232b"/>
<rect x="388.2" y="854" width="7.3" height="15" fill="#c1232b"/>
<text x="585.7" y="822" font-size="12" fill="#fbe6e6" font-weight="normal" font-style="normal" text-anchor="end" stroke="#fbe6e6" stroke-width="0.2">5.1</text>
<text x="551.7" y="851.3" font-size="12" fill="#1f3a40" font-weight="normal" font-style="normal" text-anchor="end" stroke="#1f3a40" stroke-width="0.2">4.2</text>
<text x="582.4000000000001" y="894.7" font-size="12" fill="#1f3a40" font-weight="normal" font-style="normal" text-anchor="end" stroke="#1f3a40" stroke-width="0.2">5.0</text>
<text x="646.9000000000001" y="909.7" font-size="12" fill="#fbe6e6" font-weight="normal" font-style="normal" text-anchor="end" stroke="#fbe6e6" stroke-width="0.2">6.7</text>
<text x="578.2" y="938.7" font-size="12" fill="#fbe6e6" font-weight="normal" font-style="normal" text-anchor="end" stroke="#fbe6e6" stroke-width="0.2">4.9</text>
<text x="398.8" y="849.5" font-size="9.6" fill="#1f3a40" font-weight="normal" font-style="normal" text-anchor="start" textLength="88.3" lengthAdjust="spacingAndGlyphs" stroke="#1f3a40" stroke-width="0.22">AREO 2020 projections</text>
<text x="398.8" y="864.5" font-size="9.6" fill="#231f20" font-weight="normal" font-style="normal" text-anchor="start" textLength="81.2" lengthAdjust="spacingAndGlyphs" stroke="#231f20" stroke-width="0.22">AREO 2021 estimates</text>
<text x="398.8" y="893.2" font-size="9.6" fill="#1f3a40" font-weight="normal" font-style="normal" text-anchor="start" textLength="88.3" lengthAdjust="spacingAndGlyphs" stroke="#1f3a40" stroke-width="0.22">AREO 2020 projections</text>
<text x="398.8" y="908.3" font-size="9.6" fill="#fbe6e6" font-weight="normal" font-style="normal" text-anchor="start" textLength="88.3" lengthAdjust="spacingAndGlyphs" stroke="#fbe6e6" stroke-width="0.22">AREO 2021 projections</text>
<text x="398.8" y="937.3" font-size="9.6" fill="#fbe6e6" font-weight="normal" font-style="normal" text-anchor="start" textLength="88.3" lengthAdjust="spacingAndGlyphs" stroke="#fbe6e6" stroke-width="0.22">AREO 2021 projections</text>
<text x="318.7" y="813.8" font-size="12" fill="#231f20" font-weight="normal" font-style="normal" text-anchor="start" textLength="40.8" lengthAdjust="spacingAndGlyphs" >Average</text>
<text x="318.7" y="828" font-size="12" fill="#231f20" font-weight="normal" font-style="normal" text-anchor="start" textLength="55" lengthAdjust="spacingAndGlyphs" >2017–2019</text>
<text x="318.7" y="856" font-size="12" fill="#231f20" font-weight="normal" font-style="normal" text-anchor="start" textLength="24.3" lengthAdjust="spacingAndGlyphs" >2020</text>
<text x="318.7" y="902" font-size="12" fill="#231f20" font-weight="normal" font-style="normal" text-anchor="start" textLength="24.3" lengthAdjust="spacingAndGlyphs" >2021</text>
<text x="318.7" y="937.5" font-size="12" fill="#231f20" font-weight="normal" font-style="normal" text-anchor="start" textLength="24.3" lengthAdjust="spacingAndGlyphs" >2022</text>
<text x="384.5" y="865.5" font-size="12" fill="#231f20" font-weight="normal" font-style="normal" text-anchor="end" >-0.2</text>
<text x="318.5" y="981.5" font-size="5.5" fill="#555">1/</text>
<text x="330" y="986.3" font-size="9.5" fill="#555555" font-weight="normal" font-style="normal" text-anchor="start" textLength="375" lengthAdjust="spacingAndGlyphs" >The ASEAN+3 region comprises the 10 ASEAN members; China; Hong Kong, China; Japan and Korea.</text>
<text x="168.4" y="1055.5" font-size="10.8" fill="#231f20" font-weight="normal" font-style="italic" text-anchor="start" textLength="464" lengthAdjust="spacingAndGlyphs" stroke="#231f20" stroke-width="0.15">Source: ASEAN+3 Regional Economic Outlook 2021: Global Value Chains in the Post-Pandemic “New Normal”</text>
<text x="722" y="1036.9" font-size="11" fill="#34414a" font-weight="normal" font-style="italic" text-anchor="end" textLength="31" lengthAdjust="spacingAndGlyphs" stroke="#34414a" stroke-width="0.2">Scan to</text>
<text x="722" y="1049.2" font-size="11" fill="#34414a" font-weight="normal" font-style="italic" text-anchor="end" textLength="43" lengthAdjust="spacingAndGlyphs" stroke="#34414a" stroke-width="0.2">download</text>
<text x="722" y="1062.2" font-size="11" fill="#34414a" font-weight="normal" font-style="italic" text-anchor="end" textLength="31.5" lengthAdjust="spacingAndGlyphs" stroke="#34414a" stroke-width="0.2">the full</text>
<text x="722" y="1074.5" font-size="11" fill="#34414a" font-weight="normal" font-style="italic" text-anchor="end" textLength="27" lengthAdjust="spacingAndGlyphs" stroke="#34414a" stroke-width="0.2">report</text>
<rect x="732" y="1023.8" width="57.5" height="57.7" rx="6" fill="#ffffff"/>
<g fill="#111111" shape-rendering="crispEdges"><rect x="738.20" y="1029.90" width="1.88" height="1.88"/><rect x="740.03" y="1029.90" width="1.88" height="1.88"/><rect x="741.86" y="1029.90" width="1.88" height="1.88"/><rect x="743.68" y="1029.90" width="1.88" height="1.88"/><rect x="745.51" y="1029.90" width="1.88" height="1.88"/><rect x="747.34" y="1029.90" width="1.88" height="1.88"/><rect x="749.17" y="1029.90" width="1.88" height="1.88"/><rect x="756.48" y="1029.90" width="1.88" height="1.88"/><rect x="758.31" y="1029.90" width="1.88" height="1.88"/><rect x="760.14" y="1029.90" width="1.88" height="1.88"/><rect x="765.62" y="1029.90" width="1.88" height="1.88"/><rect x="771.10" y="1029.90" width="1.88" height="1.88"/><rect x="772.93" y="1029.90" width="1.88" height="1.88"/><rect x="774.76" y="1029.90" width="1.88" height="1.88"/><rect x="776.59" y="1029.90" width="1.88" height="1.88"/><rect x="778.42" y="1029.90" width="1.88" height="1.88"/><rect x="780.24" y="1029.90" width="1.88" height="1.88"/><rect x="782.07" y="1029.90" width="1.88" height="1.88"/><rect x="738.20" y="1031.73" width="1.88" height="1.88"/><rect x="749.17" y="1031.73" width="1.88" height="1.88"/><rect x="754.65" y="1031.73" width="1.88" height="1.88"/><rect x="756.48" y="1031.73" width="1.88" height="1.88"/><rect x="765.62" y="1031.73" width="1.88" height="1.88"/><rect x="767.45" y="1031.73" width="1.88" height="1.88"/><rect x="771.10" y="1031.73" width="1.88" height="1.88"/><rect x="782.07" y="1031.73" width="1.88" height="1.88"/><rect x="738.20" y="1033.56" width="1.88" height="1.88"/><rect x="741.86" y="1033.56" width="1.88" height="1.88"/><rect x="743.68" y="1033.56" width="1.88" height="1.88"/><rect x="745.51" y="1033.56" width="1.88" height="1.88"/><rect x="749.17" y="1033.56" width="1.88" height="1.88"/><rect x="754.65" y="1033.56" width="1.88" height="1.88"/><rect x="756.48" y="1033.56" width="1.88" height="1.88"/><rect x="758.31" y="1033.56" width="1.88" height="1.88"/><rect x="763.79" y="1033.56" width="1.88" height="1.88"/><rect x="765.62" y="1033.56" width="1.88" height="1.88"/><rect x="767.45" y="1033.56" width="1.88" height="1.88"/><rect x="771.10" y="1033.56" width="1.88" height="1.88"/><rect x="774.76" y="1033.56" width="1.88" height="1.88"/><rect x="776.59" y="1033.56" width="1.88" height="1.88"/><rect x="778.42" y="1033.56" width="1.88" height="1.88"/><rect x="782.07" y="1033.56" width="1.88" height="1.88"/><rect x="738.20" y="1035.38" width="1.88" height="1.88"/><rect x="741.86" y="1035.38" width="1.88" height="1.88"/><rect x="743.68" y="1035.38" width="1.88" height="1.88"/><rect x="745.51" y="1035.38" width="1.88" height="1.88"/><rect x="749.17" y="1035.38" width="1.88" height="1.88"/><rect x="754.65" y="1035.38" width="1.88" height="1.88"/><rect x="756.48" y="1035.38" width="1.88" height="1.88"/><rect x="761.96" y="1035.38" width="1.88" height="1.88"/><rect x="765.62" y="1035.38" width="1.88" height="1.88"/><rect x="767.45" y="1035.38" width="1.88" height="1.88"/><rect x="771.10" y="1035.38" width="1.88" height="1.88"/><rect x="774.76" y="1035.38" width="1.88" height="1.88"/><rect x="776.59" y="1035.38" width="1.88" height="1.88"/><rect x="778.42" y="1035.38" width="1.88" height="1.88"/><rect x="782.07" y="1035.38" width="1.88" height="1.88"/><rect x="738.20" y="1037.21" width="1.88" height="1.88"/><rect x="741.86" y="1037.21" width="1.88" height="1.88"/><rect x="743.68" y="1037.21" width="1.88" height="1.88"/><rect x="745.51" y="1037.21" width="1.88" height="1.88"/><rect x="749.17" y="1037.21" width="1.88" height="1.88"/><rect x="756.48" y="1037.21" width="1.88" height="1.88"/><rect x="758.31" y="1037.21" width="1.88" height="1.88"/><rect x="763.79" y="1037.21" width="1.88" height="1.88"/><rect x="771.10" y="1037.21" width="1.88" height="1.88"/><rect x="774.76" y="1037.21" width="1.88" height="1.88"/><rect x="776.59" y="1037.21" width="1.88" height="1.88"/><rect x="778.42" y="1037.21" width="1.88" height="1.88"/><rect x="782.07" y="1037.21" width="1.88" height="1.88"/><rect x="738.20" y="1039.04" width="1.88" height="1.88"/><rect x="749.17" y="1039.04" width="1.88" height="1.88"/><rect x="756.48" y="1039.04" width="1.88" height="1.88"/><rect x="760.14" y="1039.04" width="1.88" height="1.88"/><rect x="761.96" y="1039.04" width="1.88" height="1.88"/><rect x="763.79" y="1039.04" width="1.88" height="1.88"/><rect x="765.62" y="1039.04" width="1.88" height="1.88"/><rect x="767.45" y="1039.04" width="1.88" height="1.88"/><rect x="771.10" y="1039.04" width="1.88" height="1.88"/><rect x="782.07" y="1039.04" width="1.88" height="1.88"/><rect x="738.20" y="1040.87" width="1.88" height="1.88"/><rect x="740.03" y="1040.87" width="1.88" height="1.88"/><rect x="741.86" y="1040.87" width="1.88" height="1.88"/><rect x="743.68" y="1040.87" width="1.88" height="1.88"/><rect x="745.51" y="1040.87" width="1.88" height="1.88"/><rect x="747.34" y="1040.87" width="1.88" height="1.88"/><rect x="749.17" y="1040.87" width="1.88" height="1.88"/><rect x="752.82" y="1040.87" width="1.88" height="1.88"/><rect x="756.48" y="1040.87" width="1.88" height="1.88"/><rect x="760.14" y="1040.87" width="1.88" height="1.88"/><rect x="763.79" y="1040.87" width="1.88" height="1.88"/><rect x="767.45" y="1040.87" width="1.88" height="1.88"/><rect x="771.10" y="1040.87" width="1.88" height="1.88"/><rect x="772.93" y="1040.87" width="1.88" height="1.88"/><rect x="774.76" y="1040.87" width="1.88" height="1.88"/><rect x="776.59" y="1040.87" width="1.88" height="1.88"/><rect x="778.42" y="1040.87" width="1.88" height="1.88"/><rect x="780.24" y="1040.87" width="1.88" height="1.88"/><rect x="782.07" y="1040.87" width="1.88" height="1.88"/><rect x="754.65" y="1042.70" width="1.88" height="1.88"/><rect x="763.79" y="1042.70" width="1.88" height="1.88"/><rect x="740.03" y="1044.52" width="1.88" height="1.88"/><rect x="745.51" y="1044.52" width="1.88" height="1.88"/><rect x="747.34" y="1044.52" width="1.88" height="1.88"/><rect x="749.17" y="1044.52" width="1.88" height="1.88"/><rect x="752.82" y="1044.52" width="1.88" height="1.88"/><rect x="754.65" y="1044.52" width="1.88" height="1.88"/><rect x="760.14" y="1044.52" width="1.88" height="1.88"/><rect x="763.79" y="1044.52" width="1.88" height="1.88"/><rect x="767.45" y="1044.52" width="1.88" height="1.88"/><rect x="769.28" y="1044.52" width="1.88" height="1.88"/><rect x="776.59" y="1044.52" width="1.88" height="1.88"/><rect x="780.24" y="1044.52" width="1.88" height="1.88"/><rect x="782.07" y="1044.52" width="1.88" height="1.88"/><rect x="738.20" y="1046.35" width="1.88" height="1.88"/><rect x="747.34" y="1046.35" width="1.88" height="1.88"/><rect x="751.00" y="1046.35" width="1.88" height="1.88"/><rect x="752.82" y="1046.35" width="1.88" height="1.88"/><rect x="754.65" y="1046.35" width="1.88" height="1.88"/><rect x="756.48" y="1046.35" width="1.88" height="1.88"/><rect x="760.14" y="1046.35" width="1.88" height="1.88"/><rect x="761.96" y="1046.35" width="1.88" height="1.88"/><rect x="767.45" y="1046.35" width="1.88" height="1.88"/><rect x="769.28" y="1046.35" width="1.88" height="1.88"/><rect x="771.10" y="1046.35" width="1.88" height="1.88"/><rect x="774.76" y="1046.35" width="1.88" height="1.88"/><rect x="780.24" y="1046.35" width="1.88" height="1.88"/><rect x="738.20" y="1048.18" width="1.88" height="1.88"/><rect x="740.03" y="1048.18" width="1.88" height="1.88"/><rect x="741.86" y="1048.18" width="1.88" height="1.88"/><rect x="743.68" y="1048.18" width="1.88" height="1.88"/><rect x="747.34" y="1048.18" width="1.88" height="1.88"/><rect x="749.17" y="1048.18" width="1.88" height="1.88"/><rect x="751.00" y="1048.18" width="1.88" height="1.88"/><rect x="754.65" y="1048.18" width="1.88" height="1.88"/><rect x="765.62" y="1048.18" width="1.88" height="1.88"/><rect x="767.45" y="1048.18" width="1.88" height="1.88"/><rect x="769.28" y="1048.18" width="1.88" height="1.88"/><rect x="771.10" y="1048.18" width="1.88" height="1.88"/><rect x="772.93" y="1048.18" width="1.88" height="1.88"/><rect x="776.59" y="1048.18" width="1.88" height="1.88"/><rect x="778.42" y="1048.18" width="1.88" height="1.88"/><rect x="780.24" y="1048.18" width="1.88" height="1.88"/><rect x="743.68" y="1050.01" width="1.88" height="1.88"/><rect x="754.65" y="1050.01" width="1.88" height="1.88"/><rect x="756.48" y="1050.01" width="1.88" height="1.88"/><rect x="761.96" y="1050.01" width="1.88" height="1.88"/><rect x="771.10" y="1050.01" width="1.88" height="1.88"/><rect x="774.76" y="1050.01" width="1.88" height="1.88"/><rect x="738.20" y="1051.84" width="1.88" height="1.88"/><rect x="749.17" y="1051.84" width="1.88" height="1.88"/><rect x="754.65" y="1051.84" width="1.88" height="1.88"/><rect x="756.48" y="1051.84" width="1.88" height="1.88"/><rect x="758.31" y="1051.84" width="1.88" height="1.88"/><rect x="763.79" y="1051.84" width="1.88" height="1.88"/><rect x="765.62" y="1051.84" width="1.88" height="1.88"/><rect x="769.28" y="1051.84" width="1.88" height="1.88"/><rect x="772.93" y="1051.84" width="1.88" height="1.88"/><rect x="774.76" y="1051.84" width="1.88" height="1.88"/><rect x="778.42" y="1051.84" width="1.88" height="1.88"/><rect x="780.24" y="1051.84" width="1.88" height="1.88"/><rect x="745.51" y="1053.66" width="1.88" height="1.88"/><rect x="751.00" y="1053.66" width="1.88" height="1.88"/><rect x="754.65" y="1053.66" width="1.88" height="1.88"/><rect x="765.62" y="1053.66" width="1.88" height="1.88"/><rect x="767.45" y="1053.66" width="1.88" height="1.88"/><rect x="772.93" y="1053.66" width="1.88" height="1.88"/><rect x="782.07" y="1053.66" width="1.88" height="1.88"/><rect x="743.68" y="1055.49" width="1.88" height="1.88"/><rect x="749.17" y="1055.49" width="1.88" height="1.88"/><rect x="754.65" y="1055.49" width="1.88" height="1.88"/><rect x="758.31" y="1055.49" width="1.88" height="1.88"/><rect x="761.96" y="1055.49" width="1.88" height="1.88"/><rect x="767.45" y="1055.49" width="1.88" height="1.88"/><rect x="769.28" y="1055.49" width="1.88" height="1.88"/><rect x="771.10" y="1055.49" width="1.88" height="1.88"/><rect x="772.93" y="1055.49" width="1.88" height="1.88"/><rect x="778.42" y="1055.49" width="1.88" height="1.88"/><rect x="780.24" y="1055.49" width="1.88" height="1.88"/><rect x="782.07" y="1055.49" width="1.88" height="1.88"/><rect x="741.86" y="1057.32" width="1.88" height="1.88"/><rect x="745.51" y="1057.32" width="1.88" height="1.88"/><rect x="747.34" y="1057.32" width="1.88" height="1.88"/><rect x="752.82" y="1057.32" width="1.88" height="1.88"/><rect x="754.65" y="1057.32" width="1.88" height="1.88"/><rect x="758.31" y="1057.32" width="1.88" height="1.88"/><rect x="761.96" y="1057.32" width="1.88" height="1.88"/><rect x="765.62" y="1057.32" width="1.88" height="1.88"/><rect x="767.45" y="1057.32" width="1.88" height="1.88"/><rect x="771.10" y="1057.32" width="1.88" height="1.88"/><rect x="772.93" y="1057.32" width="1.88" height="1.88"/><rect x="774.76" y="1057.32" width="1.88" height="1.88"/><rect x="778.42" y="1057.32" width="1.88" height="1.88"/><rect x="780.24" y="1057.32" width="1.88" height="1.88"/><rect x="747.34" y="1059.15" width="1.88" height="1.88"/><rect x="749.17" y="1059.15" width="1.88" height="1.88"/><rect x="754.65" y="1059.15" width="1.88" height="1.88"/><rect x="756.48" y="1059.15" width="1.88" height="1.88"/><rect x="760.14" y="1059.15" width="1.88" height="1.88"/><rect x="765.62" y="1059.15" width="1.88" height="1.88"/><rect x="767.45" y="1059.15" width="1.88" height="1.88"/><rect x="769.28" y="1059.15" width="1.88" height="1.88"/><rect x="771.10" y="1059.15" width="1.88" height="1.88"/><rect x="772.93" y="1059.15" width="1.88" height="1.88"/><rect x="774.76" y="1059.15" width="1.88" height="1.88"/><rect x="776.59" y="1059.15" width="1.88" height="1.88"/><rect x="780.24" y="1059.15" width="1.88" height="1.88"/><rect x="782.07" y="1059.15" width="1.88" height="1.88"/><rect x="758.31" y="1060.98" width="1.88" height="1.88"/><rect x="760.14" y="1060.98" width="1.88" height="1.88"/><rect x="761.96" y="1060.98" width="1.88" height="1.88"/><rect x="763.79" y="1060.98" width="1.88" height="1.88"/><rect x="767.45" y="1060.98" width="1.88" height="1.88"/><rect x="774.76" y="1060.98" width="1.88" height="1.88"/><rect x="782.07" y="1060.98" width="1.88" height="1.88"/><rect x="738.20" y="1062.80" width="1.88" height="1.88"/><rect x="740.03" y="1062.80" width="1.88" height="1.88"/><rect x="741.86" y="1062.80" width="1.88" height="1.88"/><rect x="743.68" y="1062.80" width="1.88" height="1.88"/><rect x="745.51" y="1062.80" width="1.88" height="1.88"/><rect x="747.34" y="1062.80" width="1.88" height="1.88"/><rect x="749.17" y="1062.80" width="1.88" height="1.88"/><rect x="754.65" y="1062.80" width="1.88" height="1.88"/><rect x="760.14" y="1062.80" width="1.88" height="1.88"/><rect x="761.96" y="1062.80" width="1.88" height="1.88"/><rect x="765.62" y="1062.80" width="1.88" height="1.88"/><rect x="767.45" y="1062.80" width="1.88" height="1.88"/><rect x="771.10" y="1062.80" width="1.88" height="1.88"/><rect x="774.76" y="1062.80" width="1.88" height="1.88"/><rect x="738.20" y="1064.63" width="1.88" height="1.88"/><rect x="749.17" y="1064.63" width="1.88" height="1.88"/><rect x="756.48" y="1064.63" width="1.88" height="1.88"/><rect x="767.45" y="1064.63" width="1.88" height="1.88"/><rect x="774.76" y="1064.63" width="1.88" height="1.88"/><rect x="776.59" y="1064.63" width="1.88" height="1.88"/><rect x="778.42" y="1064.63" width="1.88" height="1.88"/><rect x="738.20" y="1066.46" width="1.88" height="1.88"/><rect x="741.86" y="1066.46" width="1.88" height="1.88"/><rect x="743.68" y="1066.46" width="1.88" height="1.88"/><rect x="745.51" y="1066.46" width="1.88" height="1.88"/><rect x="749.17" y="1066.46" width="1.88" height="1.88"/><rect x="761.96" y="1066.46" width="1.88" height="1.88"/><rect x="767.45" y="1066.46" width="1.88" height="1.88"/><rect x="769.28" y="1066.46" width="1.88" height="1.88"/><rect x="771.10" y="1066.46" width="1.88" height="1.88"/><rect x="772.93" y="1066.46" width="1.88" height="1.88"/><rect x="774.76" y="1066.46" width="1.88" height="1.88"/><rect x="776.59" y="1066.46" width="1.88" height="1.88"/><rect x="778.42" y="1066.46" width="1.88" height="1.88"/><rect x="738.20" y="1068.29" width="1.88" height="1.88"/><rect x="741.86" y="1068.29" width="1.88" height="1.88"/><rect x="743.68" y="1068.29" width="1.88" height="1.88"/><rect x="745.51" y="1068.29" width="1.88" height="1.88"/><rect x="749.17" y="1068.29" width="1.88" height="1.88"/><rect x="754.65" y="1068.29" width="1.88" height="1.88"/><rect x="758.31" y="1068.29" width="1.88" height="1.88"/><rect x="760.14" y="1068.29" width="1.88" height="1.88"/><rect x="761.96" y="1068.29" width="1.88" height="1.88"/><rect x="763.79" y="1068.29" width="1.88" height="1.88"/><rect x="767.45" y="1068.29" width="1.88" height="1.88"/><rect x="771.10" y="1068.29" width="1.88" height="1.88"/><rect x="776.59" y="1068.29" width="1.88" height="1.88"/><rect x="778.42" y="1068.29" width="1.88" height="1.88"/><rect x="738.20" y="1070.12" width="1.88" height="1.88"/><rect x="741.86" y="1070.12" width="1.88" height="1.88"/><rect x="743.68" y="1070.12" width="1.88" height="1.88"/><rect x="745.51" y="1070.12" width="1.88" height="1.88"/><rect x="749.17" y="1070.12" width="1.88" height="1.88"/><rect x="752.82" y="1070.12" width="1.88" height="1.88"/><rect x="758.31" y="1070.12" width="1.88" height="1.88"/><rect x="763.79" y="1070.12" width="1.88" height="1.88"/><rect x="767.45" y="1070.12" width="1.88" height="1.88"/><rect x="769.28" y="1070.12" width="1.88" height="1.88"/><rect x="772.93" y="1070.12" width="1.88" height="1.88"/><rect x="780.24" y="1070.12" width="1.88" height="1.88"/><rect x="738.20" y="1071.94" width="1.88" height="1.88"/><rect x="749.17" y="1071.94" width="1.88" height="1.88"/><rect x="752.82" y="1071.94" width="1.88" height="1.88"/><rect x="754.65" y="1071.94" width="1.88" height="1.88"/><rect x="758.31" y="1071.94" width="1.88" height="1.88"/><rect x="760.14" y="1071.94" width="1.88" height="1.88"/><rect x="763.79" y="1071.94" width="1.88" height="1.88"/><rect x="774.76" y="1071.94" width="1.88" height="1.88"/><rect x="776.59" y="1071.94" width="1.88" height="1.88"/><rect x="738.20" y="1073.77" width="1.88" height="1.88"/><rect x="740.03" y="1073.77" width="1.88" height="1.88"/><rect x="741.86" y="1073.77" width="1.88" height="1.88"/><rect x="743.68" y="1073.77" width="1.88" height="1.88"/><rect x="745.51" y="1073.77" width="1.88" height="1.88"/><rect x="747.34" y="1073.77" width="1.88" height="1.88"/><rect x="749.17" y="1073.77" width="1.88" height="1.88"/><rect x="752.82" y="1073.77" width="1.88" height="1.88"/><rect x="760.14" y="1073.77" width="1.88" height="1.88"/><rect x="761.96" y="1073.77" width="1.88" height="1.88"/><rect x="763.79" y="1073.77" width="1.88" height="1.88"/><rect x="765.62" y="1073.77" width="1.88" height="1.88"/><rect x="769.28" y="1073.77" width="1.88" height="1.88"/><rect x="772.93" y="1073.77" width="1.88" height="1.88"/><rect x="774.76" y="1073.77" width="1.88" height="1.88"/><rect x="782.07" y="1073.77" width="1.88" height="1.88"/></g>
<g fill="#ffffff"><rect x="45.0" y="1013.8" width="1.7" height="1.7" opacity="0.51"/><rect x="47.5" y="1013.8" width="1.7" height="1.7" opacity="0.55"/><rect x="50.0" y="1013.8" width="1.7" height="1.7" opacity="0.60"/><rect x="52.5" y="1013.8" width="1.7" height="1.7" opacity="0.60"/><rect x="55.0" y="1013.8" width="1.7" height="1.7" opacity="0.60"/><rect x="57.5" y="1013.8" width="1.7" height="1.7" opacity="0.60"/><rect x="60.0" y="1013.8" width="1.7" height="1.7" opacity="0.60"/><rect x="62.5" y="1013.8" width="1.7" height="1.7" opacity="0.60"/><rect x="65.0" y="1013.8" width="1.7" height="1.7" opacity="0.60"/><rect x="67.5" y="1013.8" width="1.7" height="1.7" opacity="0.60"/><rect x="70.0" y="1013.8" width="1.7" height="1.7" opacity="0.60"/><rect x="72.5" y="1013.8" width="1.7" height="1.7" opacity="0.60"/><rect x="75.0" y="1013.8" width="1.7" height="1.7" opacity="0.60"/><rect x="77.5" y="1013.8" width="1.7" height="1.7" opacity="0.60"/><rect x="80.0" y="1013.8" width="1.7" height="1.7" opacity="0.60"/><rect x="82.5" y="1013.8" width="1.7" height="1.7" opacity="0.60"/><rect x="92.5" y="1013.8" width="1.7" height="1.7" opacity="0.60"/><rect x="95.0" y="1013.8" width="1.7" height="1.7" opacity="0.60"/><rect x="97.5" y="1013.8" width="1.7" height="1.7" opacity="0.60"/><rect x="47.5" y="1016.3" width="1.7" height="1.7" opacity="0.55"/><rect x="50.0" y="1016.3" width="1.7" height="1.7" opacity="0.60"/><rect x="52.5" y="1016.3" width="1.7" height="1.7" opacity="0.60"/><rect x="57.5" y="1016.3" width="1.7" height="1.7" opacity="0.60"/><rect x="60.0" y="1016.3" width="1.7" height="1.7" opacity="0.60"/><rect x="62.5" y="1016.3" width="1.7" height="1.7" opacity="0.60"/><rect x="65.0" y="1016.3" width="1.7" height="1.7" opacity="0.60"/><rect x="67.5" y="1016.3" width="1.7" height="1.7" opacity="0.60"/><rect x="70.0" y="1016.3" width="1.7" height="1.7" opacity="0.60"/><rect x="72.5" y="1016.3" width="1.7" height="1.7" opacity="0.60"/><rect x="75.0" y="1016.3" width="1.7" height="1.7" opacity="0.60"/><rect x="77.5" y="1016.3" width="1.7" height="1.7" opacity="0.60"/><rect x="80.0" y="1016.3" width="1.7" height="1.7" opacity="0.60"/><rect x="82.5" y="1016.3" width="1.7" height="1.7" opacity="0.60"/><rect x="95.0" y="1016.3" width="1.7" height="1.7" opacity="0.60"/><rect x="97.5" y="1016.3" width="1.7" height="1.7" opacity="0.60"/><rect x="45.0" y="1018.8" width="1.7" height="1.7" opacity="0.51"/><rect x="47.5" y="1018.8" width="1.7" height="1.7" opacity="0.55"/><rect x="50.0" y="1018.8" width="1.7" height="1.7" opacity="0.60"/><rect x="52.5" y="1018.8" width="1.7" height="1.7" opacity="0.60"/><rect x="55.0" y="1018.8" width="1.7" height="1.7" opacity="0.60"/><rect x="57.5" y="1018.8" width="1.7" height="1.7" opacity="0.60"/><rect x="60.0" y="1018.8" width="1.7" height="1.7" opacity="0.60"/><rect x="62.5" y="1018.8" width="1.7" height="1.7" opacity="0.60"/><rect x="65.0" y="1018.8" width="1.7" height="1.7" opacity="0.60"/><rect x="75.0" y="1018.8" width="1.7" height="1.7" opacity="0.60"/><rect x="77.5" y="1018.8" width="1.7" height="1.7" opacity="0.60"/><rect x="80.0" y="1018.8" width="1.7" height="1.7" opacity="0.60"/><rect x="82.5" y="1018.8" width="1.7" height="1.7" opacity="0.60"/><rect x="95.0" y="1018.8" width="1.7" height="1.7" opacity="0.60"/><rect x="42.5" y="1021.3" width="1.7" height="1.7" opacity="0.17"/><rect x="45.0" y="1021.3" width="1.7" height="1.7" opacity="0.51"/><rect x="47.5" y="1021.3" width="1.7" height="1.7" opacity="0.55"/><rect x="50.0" y="1021.3" width="1.7" height="1.7" opacity="0.60"/><rect x="52.5" y="1021.3" width="1.7" height="1.7" opacity="0.60"/><rect x="55.0" y="1021.3" width="1.7" height="1.7" opacity="0.60"/><rect x="57.5" y="1021.3" width="1.7" height="1.7" opacity="0.60"/><rect x="60.0" y="1021.3" width="1.7" height="1.7" opacity="0.60"/><rect x="62.5" y="1021.3" width="1.7" height="1.7" opacity="0.60"/><rect x="65.0" y="1021.3" width="1.7" height="1.7" opacity="0.60"/><rect x="67.5" y="1021.3" width="1.7" height="1.7" opacity="0.60"/><rect x="70.0" y="1021.3" width="1.7" height="1.7" opacity="0.60"/><rect x="72.5" y="1021.3" width="1.7" height="1.7" opacity="0.60"/><rect x="75.0" y="1021.3" width="1.7" height="1.7" opacity="0.60"/><rect x="80.0" y="1021.3" width="1.7" height="1.7" opacity="0.60"/><rect x="82.5" y="1021.3" width="1.7" height="1.7" opacity="0.60"/><rect x="95.0" y="1021.3" width="1.7" height="1.7" opacity="0.60"/><rect x="97.5" y="1021.3" width="1.7" height="1.7" opacity="0.60"/><rect x="32.5" y="1023.8" width="1.7" height="1.7" opacity="0.10"/><rect x="37.5" y="1023.8" width="1.7" height="1.7" opacity="0.14"/><rect x="40.0" y="1023.8" width="1.7" height="1.7" opacity="0.15"/><rect x="42.5" y="1023.8" width="1.7" height="1.7" opacity="0.46"/><rect x="45.0" y="1023.8" width="1.7" height="1.7" opacity="0.51"/><rect x="47.5" y="1023.8" width="1.7" height="1.7" opacity="0.55"/><rect x="50.0" y="1023.8" width="1.7" height="1.7" opacity="0.60"/><rect x="52.5" y="1023.8" width="1.7" height="1.7" opacity="0.60"/><rect x="55.0" y="1023.8" width="1.7" height="1.7" opacity="0.60"/><rect x="60.0" y="1023.8" width="1.7" height="1.7" opacity="0.60"/><rect x="62.5" y="1023.8" width="1.7" height="1.7" opacity="0.60"/><rect x="65.0" y="1023.8" width="1.7" height="1.7" opacity="0.60"/><rect x="67.5" y="1023.8" width="1.7" height="1.7" opacity="0.60"/><rect x="70.0" y="1023.8" width="1.7" height="1.7" opacity="0.60"/><rect x="72.5" y="1023.8" width="1.7" height="1.7" opacity="0.60"/><rect x="75.0" y="1023.8" width="1.7" height="1.7" opacity="0.60"/><rect x="77.5" y="1023.8" width="1.7" height="1.7" opacity="0.60"/><rect x="80.0" y="1023.8" width="1.7" height="1.7" opacity="0.60"/><rect x="92.5" y="1023.8" width="1.7" height="1.7" opacity="0.60"/><rect x="95.0" y="1023.8" width="1.7" height="1.7" opacity="0.60"/><rect x="97.5" y="1023.8" width="1.7" height="1.7" opacity="0.60"/><rect x="27.5" y="1026.3" width="1.7" height="1.7" opacity="0.07"/><rect x="30.0" y="1026.3" width="1.7" height="1.7" opacity="0.08"/><rect x="32.5" y="1026.3" width="1.7" height="1.7" opacity="0.10"/><rect x="35.0" y="1026.3" width="1.7" height="1.7" opacity="0.12"/><rect x="37.5" y="1026.3" width="1.7" height="1.7" opacity="0.14"/><rect x="42.5" y="1026.3" width="1.7" height="1.7" opacity="0.46"/><rect x="45.0" y="1026.3" width="1.7" height="1.7" opacity="0.51"/><rect x="47.5" y="1026.3" width="1.7" height="1.7" opacity="0.55"/><rect x="52.5" y="1026.3" width="1.7" height="1.7" opacity="0.60"/><rect x="55.0" y="1026.3" width="1.7" height="1.7" opacity="0.60"/><rect x="62.5" y="1026.3" width="1.7" height="1.7" opacity="0.60"/><rect x="65.0" y="1026.3" width="1.7" height="1.7" opacity="0.60"/><rect x="67.5" y="1026.3" width="1.7" height="1.7" opacity="0.60"/><rect x="70.0" y="1026.3" width="1.7" height="1.7" opacity="0.60"/><rect x="72.5" y="1026.3" width="1.7" height="1.7" opacity="0.60"/><rect x="75.0" y="1026.3" width="1.7" height="1.7" opacity="0.60"/><rect x="77.5" y="1026.3" width="1.7" height="1.7" opacity="0.60"/><rect x="80.0" y="1026.3" width="1.7" height="1.7" opacity="0.60"/><rect x="90.0" y="1026.3" width="1.7" height="1.7" opacity="0.60"/><rect x="92.5" y="1026.3" width="1.7" height="1.7" opacity="0.60"/><rect x="95.0" y="1026.3" width="1.7" height="1.7" opacity="0.60"/><rect x="22.5" y="1028.8" width="1.7" height="1.7" opacity="0.07"/><rect x="25.0" y="1028.8" width="1.7" height="1.7" opacity="0.07"/><rect x="30.0" y="1028.8" width="1.7" height="1.7" opacity="0.08"/><rect x="32.5" y="1028.8" width="1.7" height="1.7" opacity="0.10"/><rect x="35.0" y="1028.8" width="1.7" height="1.7" opacity="0.12"/><rect x="37.5" y="1028.8" width="1.7" height="1.7" opacity="0.14"/><rect x="40.0" y="1028.8" width="1.7" height="1.7" opacity="0.15"/><rect x="42.5" y="1028.8" width="1.7" height="1.7" opacity="0.46"/><rect x="45.0" y="1028.8" width="1.7" height="1.7" opacity="0.51"/><rect x="47.5" y="1028.8" width="1.7" height="1.7" opacity="0.55"/><rect x="50.0" y="1028.8" width="1.7" height="1.7" opacity="0.60"/><rect x="55.0" y="1028.8" width="1.7" height="1.7" opacity="0.60"/><rect x="57.5" y="1028.8" width="1.7" height="1.7" opacity="0.60"/><rect x="60.0" y="1028.8" width="1.7" height="1.7" opacity="0.60"/><rect x="62.5" y="1028.8" width="1.7" height="1.7" opacity="0.60"/><rect x="65.0" y="1028.8" width="1.7" height="1.7" opacity="0.60"/><rect x="67.5" y="1028.8" width="1.7" height="1.7" opacity="0.60"/><rect x="70.0" y="1028.8" width="1.7" height="1.7" opacity="0.60"/><rect x="72.5" y="1028.8" width="1.7" height="1.7" opacity="0.60"/><rect x="75.0" y="1028.8" width="1.7" height="1.7" opacity="0.60"/><rect x="77.5" y="1028.8" width="1.7" height="1.7" opacity="0.60"/><rect x="80.0" y="1028.8" width="1.7" height="1.7" opacity="0.60"/><rect x="87.5" y="1028.8" width="1.7" height="1.7" opacity="0.60"/><rect x="90.0" y="1028.8" width="1.7" height="1.7" opacity="0.60"/><rect x="92.5" y="1028.8" width="1.7" height="1.7" opacity="0.60"/><rect x="22.5" y="1031.3" width="1.7" height="1.7" opacity="0.07"/><rect x="25.0" y="1031.3" width="1.7" height="1.7" opacity="0.07"/><rect x="27.5" y="1031.3" width="1.7" height="1.7" opacity="0.07"/><rect x="35.0" y="1031.3" width="1.7" height="1.7" opacity="0.12"/><rect x="37.5" y="1031.3" width="1.7" height="1.7" opacity="0.14"/><rect x="42.5" y="1031.3" width="1.7" height="1.7" opacity="0.46"/><rect x="45.0" y="1031.3" width="1.7" height="1.7" opacity="0.51"/><rect x="47.5" y="1031.3" width="1.7" height="1.7" opacity="0.55"/><rect x="52.5" y="1031.3" width="1.7" height="1.7" opacity="0.60"/><rect x="55.0" y="1031.3" width="1.7" height="1.7" opacity="0.60"/><rect x="57.5" y="1031.3" width="1.7" height="1.7" opacity="0.60"/><rect x="60.0" y="1031.3" width="1.7" height="1.7" opacity="0.60"/><rect x="62.5" y="1031.3" width="1.7" height="1.7" opacity="0.60"/><rect x="67.5" y="1031.3" width="1.7" height="1.7" opacity="0.60"/><rect x="70.0" y="1031.3" width="1.7" height="1.7" opacity="0.60"/><rect x="72.5" y="1031.3" width="1.7" height="1.7" opacity="0.60"/><rect x="75.0" y="1031.3" width="1.7" height="1.7" opacity="0.60"/><rect x="77.5" y="1031.3" width="1.7" height="1.7" opacity="0.60"/><rect x="80.0" y="1031.3" width="1.7" height="1.7" opacity="0.60"/><rect x="22.5" y="1033.8" width="1.7" height="1.7" opacity="0.07"/><rect x="25.0" y="1033.8" width="1.7" height="1.7" opacity="0.07"/><rect x="27.5" y="1033.8" width="1.7" height="1.7" opacity="0.07"/><rect x="30.0" y="1033.8" width="1.7" height="1.7" opacity="0.08"/><rect x="32.5" y="1033.8" width="1.7" height="1.7" opacity="0.10"/><rect x="35.0" y="1033.8" width="1.7" height="1.7" opacity="0.12"/><rect x="40.0" y="1033.8" width="1.7" height="1.7" opacity="0.15"/><rect x="42.5" y="1033.8" width="1.7" height="1.7" opacity="0.46"/><rect x="47.5" y="1033.8" width="1.7" height="1.7" opacity="0.55"/><rect x="50.0" y="1033.8" width="1.7" height="1.7" opacity="0.60"/><rect x="52.5" y="1033.8" width="1.7" height="1.7" opacity="0.60"/><rect x="55.0" y="1033.8" width="1.7" height="1.7" opacity="0.60"/><rect x="57.5" y="1033.8" width="1.7" height="1.7" opacity="0.60"/><rect x="60.0" y="1033.8" width="1.7" height="1.7" opacity="0.60"/><rect x="62.5" y="1033.8" width="1.7" height="1.7" opacity="0.60"/><rect x="65.0" y="1033.8" width="1.7" height="1.7" opacity="0.60"/><rect x="67.5" y="1033.8" width="1.7" height="1.7" opacity="0.60"/><rect x="70.0" y="1033.8" width="1.7" height="1.7" opacity="0.60"/><rect x="72.5" y="1033.8" width="1.7" height="1.7" opacity="0.60"/><rect x="75.0" y="1033.8" width="1.7" height="1.7" opacity="0.60"/><rect x="77.5" y="1033.8" width="1.7" height="1.7" opacity="0.60"/><rect x="80.0" y="1033.8" width="1.7" height="1.7" opacity="0.60"/><rect x="27.5" y="1036.3" width="1.7" height="1.7" opacity="0.07"/><rect x="32.5" y="1036.3" width="1.7" height="1.7" opacity="0.10"/><rect x="35.0" y="1036.3" width="1.7" height="1.7" opacity="0.12"/><rect x="37.5" y="1036.3" width="1.7" height="1.7" opacity="0.14"/><rect x="42.5" y="1036.3" width="1.7" height="1.7" opacity="0.17"/><rect x="45.0" y="1036.3" width="1.7" height="1.7" opacity="0.51"/><rect x="47.5" y="1036.3" width="1.7" height="1.7" opacity="0.55"/><rect x="50.0" y="1036.3" width="1.7" height="1.7" opacity="0.60"/><rect x="52.5" y="1036.3" width="1.7" height="1.7" opacity="0.60"/><rect x="55.0" y="1036.3" width="1.7" height="1.7" opacity="0.60"/><rect x="57.5" y="1036.3" width="1.7" height="1.7" opacity="0.60"/><rect x="60.0" y="1036.3" width="1.7" height="1.7" opacity="0.60"/><rect x="62.5" y="1036.3" width="1.7" height="1.7" opacity="0.60"/><rect x="65.0" y="1036.3" width="1.7" height="1.7" opacity="0.60"/><rect x="67.5" y="1036.3" width="1.7" height="1.7" opacity="0.60"/><rect x="70.0" y="1036.3" width="1.7" height="1.7" opacity="0.60"/><rect x="72.5" y="1036.3" width="1.7" height="1.7" opacity="0.60"/><rect x="75.0" y="1036.3" width="1.7" height="1.7" opacity="0.60"/><rect x="77.5" y="1036.3" width="1.7" height="1.7" opacity="0.60"/><rect x="80.0" y="1036.3" width="1.7" height="1.7" opacity="0.60"/><rect x="25.0" y="1038.8" width="1.7" height="1.7" opacity="0.07"/><rect x="27.5" y="1038.8" width="1.7" height="1.7" opacity="0.07"/><rect x="32.5" y="1038.8" width="1.7" height="1.7" opacity="0.10"/><rect x="35.0" y="1038.8" width="1.7" height="1.7" opacity="0.12"/><rect x="37.5" y="1038.8" width="1.7" height="1.7" opacity="0.14"/><rect x="40.0" y="1038.8" width="1.7" height="1.7" opacity="0.15"/><rect x="42.5" y="1038.8" width="1.7" height="1.7" opacity="0.17"/><rect x="45.0" y="1038.8" width="1.7" height="1.7" opacity="0.51"/><rect x="47.5" y="1038.8" width="1.7" height="1.7" opacity="0.55"/><rect x="50.0" y="1038.8" width="1.7" height="1.7" opacity="0.60"/><rect x="52.5" y="1038.8" width="1.7" height="1.7" opacity="0.60"/><rect x="57.5" y="1038.8" width="1.7" height="1.7" opacity="0.60"/><rect x="60.0" y="1038.8" width="1.7" height="1.7" opacity="0.60"/><rect x="62.5" y="1038.8" width="1.7" height="1.7" opacity="0.60"/><rect x="65.0" y="1038.8" width="1.7" height="1.7" opacity="0.60"/><rect x="67.5" y="1038.8" width="1.7" height="1.7" opacity="0.60"/><rect x="70.0" y="1038.8" width="1.7" height="1.7" opacity="0.60"/><rect x="72.5" y="1038.8" width="1.7" height="1.7" opacity="0.60"/><rect x="75.0" y="1038.8" width="1.7" height="1.7" opacity="0.60"/><rect x="77.5" y="1038.8" width="1.7" height="1.7" opacity="0.60"/><rect x="80.0" y="1038.8" width="1.7" height="1.7" opacity="0.60"/><rect x="25.0" y="1041.3" width="1.7" height="1.7" opacity="0.07"/><rect x="27.5" y="1041.3" width="1.7" height="1.7" opacity="0.07"/><rect x="30.0" y="1041.3" width="1.7" height="1.7" opacity="0.08"/><rect x="32.5" y="1041.3" width="1.7" height="1.7" opacity="0.10"/><rect x="37.5" y="1041.3" width="1.7" height="1.7" opacity="0.14"/><rect x="40.0" y="1041.3" width="1.7" height="1.7" opacity="0.15"/><rect x="42.5" y="1041.3" width="1.7" height="1.7" opacity="0.17"/><rect x="45.0" y="1041.3" width="1.7" height="1.7" opacity="0.51"/><rect x="47.5" y="1041.3" width="1.7" height="1.7" opacity="0.55"/><rect x="50.0" y="1041.3" width="1.7" height="1.7" opacity="0.60"/><rect x="52.5" y="1041.3" width="1.7" height="1.7" opacity="0.60"/><rect x="55.0" y="1041.3" width="1.7" height="1.7" opacity="0.60"/><rect x="57.5" y="1041.3" width="1.7" height="1.7" opacity="0.60"/><rect x="60.0" y="1041.3" width="1.7" height="1.7" opacity="0.60"/><rect x="62.5" y="1041.3" width="1.7" height="1.7" opacity="0.60"/><rect x="65.0" y="1041.3" width="1.7" height="1.7" opacity="0.60"/><rect x="67.5" y="1041.3" width="1.7" height="1.7" opacity="0.60"/><rect x="70.0" y="1041.3" width="1.7" height="1.7" opacity="0.60"/><rect x="72.5" y="1041.3" width="1.7" height="1.7" opacity="0.60"/><rect x="75.0" y="1041.3" width="1.7" height="1.7" opacity="0.60"/><rect x="77.5" y="1041.3" width="1.7" height="1.7" opacity="0.60"/><rect x="80.0" y="1041.3" width="1.7" height="1.7" opacity="0.60"/><rect x="25.0" y="1043.8" width="1.7" height="1.7" opacity="0.07"/><rect x="30.0" y="1043.8" width="1.7" height="1.7" opacity="0.08"/><rect x="32.5" y="1043.8" width="1.7" height="1.7" opacity="0.10"/><rect x="35.0" y="1043.8" width="1.7" height="1.7" opacity="0.12"/><rect x="37.5" y="1043.8" width="1.7" height="1.7" opacity="0.14"/><rect x="40.0" y="1043.8" width="1.7" height="1.7" opacity="0.15"/><rect x="42.5" y="1043.8" width="1.7" height="1.7" opacity="0.17"/><rect x="45.0" y="1043.8" width="1.7" height="1.7" opacity="0.51"/><rect x="47.5" y="1043.8" width="1.7" height="1.7" opacity="0.55"/><rect x="50.0" y="1043.8" width="1.7" height="1.7" opacity="0.60"/><rect x="52.5" y="1043.8" width="1.7" height="1.7" opacity="0.60"/><rect x="55.0" y="1043.8" width="1.7" height="1.7" opacity="0.60"/><rect x="60.0" y="1043.8" width="1.7" height="1.7" opacity="0.60"/><rect x="62.5" y="1043.8" width="1.7" height="1.7" opacity="0.60"/><rect x="65.0" y="1043.8" width="1.7" height="1.7" opacity="0.60"/><rect x="67.5" y="1043.8" width="1.7" height="1.7" opacity="0.60"/><rect x="70.0" y="1043.8" width="1.7" height="1.7" opacity="0.60"/><rect x="72.5" y="1043.8" width="1.7" height="1.7" opacity="0.60"/><rect x="75.0" y="1043.8" width="1.7" height="1.7" opacity="0.60"/><rect x="77.5" y="1043.8" width="1.7" height="1.7" opacity="0.60"/><rect x="25.0" y="1046.3" width="1.7" height="1.7" opacity="0.07"/><rect x="27.5" y="1046.3" width="1.7" height="1.7" opacity="0.07"/><rect x="30.0" y="1046.3" width="1.7" height="1.7" opacity="0.08"/><rect x="32.5" y="1046.3" width="1.7" height="1.7" opacity="0.10"/><rect x="35.0" y="1046.3" width="1.7" height="1.7" opacity="0.12"/><rect x="37.5" y="1046.3" width="1.7" height="1.7" opacity="0.14"/><rect x="40.0" y="1046.3" width="1.7" height="1.7" opacity="0.15"/><rect x="45.0" y="1046.3" width="1.7" height="1.7" opacity="0.19"/><rect x="50.0" y="1046.3" width="1.7" height="1.7" opacity="0.60"/><rect x="52.5" y="1046.3" width="1.7" height="1.7" opacity="0.60"/><rect x="55.0" y="1046.3" width="1.7" height="1.7" opacity="0.60"/><rect x="57.5" y="1046.3" width="1.7" height="1.7" opacity="0.60"/><rect x="62.5" y="1046.3" width="1.7" height="1.7" opacity="0.60"/><rect x="65.0" y="1046.3" width="1.7" height="1.7" opacity="0.60"/><rect x="67.5" y="1046.3" width="1.7" height="1.7" opacity="0.60"/><rect x="70.0" y="1046.3" width="1.7" height="1.7" opacity="0.60"/><rect x="75.0" y="1046.3" width="1.7" height="1.7" opacity="0.60"/><rect x="25.0" y="1048.8" width="1.7" height="1.7" opacity="0.07"/><rect x="27.5" y="1048.8" width="1.7" height="1.7" opacity="0.07"/><rect x="30.0" y="1048.8" width="1.7" height="1.7" opacity="0.08"/><rect x="32.5" y="1048.8" width="1.7" height="1.7" opacity="0.10"/><rect x="35.0" y="1048.8" width="1.7" height="1.7" opacity="0.12"/><rect x="37.5" y="1048.8" width="1.7" height="1.7" opacity="0.14"/><rect x="42.5" y="1048.8" width="1.7" height="1.7" opacity="0.17"/><rect x="45.0" y="1048.8" width="1.7" height="1.7" opacity="0.19"/><rect x="50.0" y="1048.8" width="1.7" height="1.7" opacity="0.56"/><rect x="55.0" y="1048.8" width="1.7" height="1.7" opacity="0.60"/><rect x="60.0" y="1048.8" width="1.7" height="1.7" opacity="0.60"/><rect x="62.5" y="1048.8" width="1.7" height="1.7" opacity="0.60"/><rect x="27.5" y="1051.3" width="1.7" height="1.7" opacity="0.07"/><rect x="30.0" y="1051.3" width="1.7" height="1.7" opacity="0.08"/><rect x="37.5" y="1051.3" width="1.7" height="1.7" opacity="0.14"/><rect x="40.0" y="1051.3" width="1.7" height="1.7" opacity="0.15"/><rect x="42.5" y="1051.3" width="1.7" height="1.7" opacity="0.17"/><rect x="45.0" y="1051.3" width="1.7" height="1.7" opacity="0.19"/><rect x="50.0" y="1051.3" width="1.7" height="1.7" opacity="0.56"/><rect x="55.0" y="1051.3" width="1.7" height="1.7" opacity="0.56"/><rect x="57.5" y="1051.3" width="1.7" height="1.7" opacity="0.56"/><rect x="60.0" y="1051.3" width="1.7" height="1.7" opacity="0.56"/><rect x="62.5" y="1051.3" width="1.7" height="1.7" opacity="0.56"/><rect x="65.0" y="1051.3" width="1.7" height="1.7" opacity="0.56"/><rect x="67.5" y="1051.3" width="1.7" height="1.7" opacity="0.56"/><rect x="27.5" y="1053.8" width="1.7" height="1.7" opacity="0.07"/><rect x="30.0" y="1053.8" width="1.7" height="1.7" opacity="0.08"/><rect x="37.5" y="1053.8" width="1.7" height="1.7" opacity="0.14"/><rect x="40.0" y="1053.8" width="1.7" height="1.7" opacity="0.15"/><rect x="42.5" y="1053.8" width="1.7" height="1.7" opacity="0.17"/><rect x="52.5" y="1053.8" width="1.7" height="1.7" opacity="0.56"/><rect x="55.0" y="1053.8" width="1.7" height="1.7" opacity="0.56"/><rect x="57.5" y="1053.8" width="1.7" height="1.7" opacity="0.56"/><rect x="60.0" y="1053.8" width="1.7" height="1.7" opacity="0.56"/><rect x="62.5" y="1053.8" width="1.7" height="1.7" opacity="0.56"/><rect x="65.0" y="1053.8" width="1.7" height="1.7" opacity="0.56"/><rect x="67.5" y="1053.8" width="1.7" height="1.7" opacity="0.56"/><rect x="80.0" y="1053.8" width="1.7" height="1.7" opacity="0.56"/><rect x="82.5" y="1053.8" width="1.7" height="1.7" opacity="0.56"/><rect x="85.0" y="1053.8" width="1.7" height="1.7" opacity="0.56"/><rect x="27.5" y="1056.3" width="1.7" height="1.7" opacity="0.07"/><rect x="30.0" y="1056.3" width="1.7" height="1.7" opacity="0.08"/><rect x="32.5" y="1056.3" width="1.7" height="1.7" opacity="0.10"/><rect x="35.0" y="1056.3" width="1.7" height="1.7" opacity="0.12"/><rect x="37.5" y="1056.3" width="1.7" height="1.7" opacity="0.14"/><rect x="40.0" y="1056.3" width="1.7" height="1.7" opacity="0.15"/><rect x="42.5" y="1056.3" width="1.7" height="1.7" opacity="0.17"/><rect x="52.5" y="1056.3" width="1.7" height="1.7" opacity="0.56"/><rect x="55.0" y="1056.3" width="1.7" height="1.7" opacity="0.56"/><rect x="60.0" y="1056.3" width="1.7" height="1.7" opacity="0.56"/><rect x="62.5" y="1056.3" width="1.7" height="1.7" opacity="0.56"/><rect x="65.0" y="1056.3" width="1.7" height="1.7" opacity="0.56"/><rect x="67.5" y="1056.3" width="1.7" height="1.7" opacity="0.56"/><rect x="80.0" y="1056.3" width="1.7" height="1.7" opacity="0.56"/><rect x="82.5" y="1056.3" width="1.7" height="1.7" opacity="0.56"/><rect x="85.0" y="1056.3" width="1.7" height="1.7" opacity="0.56"/><rect x="87.5" y="1056.3" width="1.7" height="1.7" opacity="0.56"/><rect x="30.0" y="1058.8" width="1.7" height="1.7" opacity="0.08"/><rect x="35.0" y="1058.8" width="1.7" height="1.7" opacity="0.12"/><rect x="37.5" y="1058.8" width="1.7" height="1.7" opacity="0.14"/><rect x="40.0" y="1058.8" width="1.7" height="1.7" opacity="0.15"/><rect x="55.0" y="1058.8" width="1.7" height="1.7" opacity="0.56"/><rect x="57.5" y="1058.8" width="1.7" height="1.7" opacity="0.56"/><rect x="60.0" y="1058.8" width="1.7" height="1.7" opacity="0.56"/><rect x="65.0" y="1058.8" width="1.7" height="1.7" opacity="0.56"/><rect x="67.5" y="1058.8" width="1.7" height="1.7" opacity="0.56"/><rect x="80.0" y="1058.8" width="1.7" height="1.7" opacity="0.56"/><rect x="85.0" y="1058.8" width="1.7" height="1.7" opacity="0.56"/><rect x="87.5" y="1058.8" width="1.7" height="1.7" opacity="0.56"/><rect x="90.0" y="1058.8" width="1.7" height="1.7" opacity="0.56"/><rect x="27.5" y="1061.3" width="1.7" height="1.7" opacity="0.07"/><rect x="30.0" y="1061.3" width="1.7" height="1.7" opacity="0.08"/><rect x="32.5" y="1061.3" width="1.7" height="1.7" opacity="0.10"/><rect x="35.0" y="1061.3" width="1.7" height="1.7" opacity="0.12"/><rect x="37.5" y="1061.3" width="1.7" height="1.7" opacity="0.14"/><rect x="40.0" y="1061.3" width="1.7" height="1.7" opacity="0.15"/><rect x="52.5" y="1061.3" width="1.7" height="1.7" opacity="0.56"/><rect x="55.0" y="1061.3" width="1.7" height="1.7" opacity="0.56"/><rect x="57.5" y="1061.3" width="1.7" height="1.7" opacity="0.56"/><rect x="60.0" y="1061.3" width="1.7" height="1.7" opacity="0.56"/><rect x="62.5" y="1061.3" width="1.7" height="1.7" opacity="0.56"/><rect x="65.0" y="1061.3" width="1.7" height="1.7" opacity="0.56"/><rect x="67.5" y="1061.3" width="1.7" height="1.7" opacity="0.56"/><rect x="80.0" y="1061.3" width="1.7" height="1.7" opacity="0.56"/><rect x="82.5" y="1061.3" width="1.7" height="1.7" opacity="0.56"/><rect x="90.0" y="1061.3" width="1.7" height="1.7" opacity="0.56"/><rect x="30.0" y="1063.8" width="1.7" height="1.7" opacity="0.08"/><rect x="32.5" y="1063.8" width="1.7" height="1.7" opacity="0.10"/><rect x="35.0" y="1063.8" width="1.7" height="1.7" opacity="0.12"/><rect x="37.5" y="1063.8" width="1.7" height="1.7" opacity="0.14"/><rect x="40.0" y="1063.8" width="1.7" height="1.7" opacity="0.15"/><rect x="57.5" y="1063.8" width="1.7" height="1.7" opacity="0.56"/><rect x="60.0" y="1063.8" width="1.7" height="1.7" opacity="0.56"/><rect x="62.5" y="1063.8" width="1.7" height="1.7" opacity="0.56"/><rect x="65.0" y="1063.8" width="1.7" height="1.7" opacity="0.56"/><rect x="82.5" y="1063.8" width="1.7" height="1.7" opacity="0.56"/><rect x="85.0" y="1063.8" width="1.7" height="1.7" opacity="0.56"/><rect x="87.5" y="1063.8" width="1.7" height="1.7" opacity="0.56"/><rect x="90.0" y="1063.8" width="1.7" height="1.7" opacity="0.56"/><rect x="37.5" y="1066.3" width="1.7" height="1.7" opacity="0.14"/><rect x="57.5" y="1066.3" width="1.7" height="1.7" opacity="0.56"/><rect x="60.0" y="1066.3" width="1.7" height="1.7" opacity="0.56"/><rect x="62.5" y="1066.3" width="1.7" height="1.7" opacity="0.56"/><rect x="65.0" y="1066.3" width="1.7" height="1.7" opacity="0.56"/><rect x="82.5" y="1066.3" width="1.7" height="1.7" opacity="0.56"/><rect x="85.0" y="1066.3" width="1.7" height="1.7" opacity="0.56"/><rect x="90.0" y="1066.3" width="1.7" height="1.7" opacity="0.56"/><rect x="55.0" y="1071.3" width="1.7" height="1.7" opacity="0.60"/><rect x="80.0" y="1071.3" width="1.7" height="1.7" opacity="0.60"/><rect x="55.0" y="1073.8" width="1.7" height="1.7" opacity="0.60"/><rect x="57.5" y="1073.8" width="1.7" height="1.7" opacity="0.60"/><rect x="75.0" y="1073.8" width="1.7" height="1.7" opacity="0.60"/><rect x="77.5" y="1073.8" width="1.7" height="1.7" opacity="0.60"/><rect x="80.0" y="1073.8" width="1.7" height="1.7" opacity="0.60"/><rect x="82.5" y="1073.8" width="1.7" height="1.7" opacity="0.60"/><rect x="55.0" y="1076.3" width="1.7" height="1.7" opacity="0.60"/><rect x="62.5" y="1076.3" width="1.7" height="1.7" opacity="0.60"/><rect x="65.0" y="1076.3" width="1.7" height="1.7" opacity="0.60"/><rect x="72.5" y="1076.3" width="1.7" height="1.7" opacity="0.60"/><rect x="77.5" y="1076.3" width="1.7" height="1.7" opacity="0.60"/><rect x="80.0" y="1076.3" width="1.7" height="1.7" opacity="0.60"/><rect x="82.5" y="1076.3" width="1.7" height="1.7" opacity="0.60"/><rect x="85.0" y="1076.3" width="1.7" height="1.7" opacity="0.60"/><rect x="57.5" y="1078.8" width="1.7" height="1.7" opacity="0.60"/><rect x="60.0" y="1078.8" width="1.7" height="1.7" opacity="0.60"/><rect x="62.5" y="1078.8" width="1.7" height="1.7" opacity="0.60"/><rect x="70.0" y="1078.8" width="1.7" height="1.7" opacity="0.60"/><rect x="72.5" y="1078.8" width="1.7" height="1.7" opacity="0.60"/><rect x="75.0" y="1078.8" width="1.7" height="1.7" opacity="0.60"/><rect x="77.5" y="1078.8" width="1.7" height="1.7" opacity="0.60"/><rect x="80.0" y="1078.8" width="1.7" height="1.7" opacity="0.60"/><rect x="82.5" y="1078.8" width="1.7" height="1.7" opacity="0.60"/><rect x="85.0" y="1078.8" width="1.7" height="1.7" opacity="0.60"/><rect x="97.5" y="1078.8" width="1.7" height="1.7" opacity="0.60"/><rect x="100.0" y="1078.8" width="1.7" height="1.7" opacity="0.60"/><rect x="102.5" y="1078.8" width="1.7" height="1.7" opacity="0.60"/><rect x="105.0" y="1078.8" width="1.7" height="1.7" opacity="0.60"/><rect x="107.5" y="1078.8" width="1.7" height="1.7" opacity="0.60"/><rect x="57.5" y="1081.3" width="1.7" height="1.7" opacity="0.60"/><rect x="60.0" y="1081.3" width="1.7" height="1.7" opacity="0.60"/><rect x="62.5" y="1081.3" width="1.7" height="1.7" opacity="0.60"/><rect x="67.5" y="1081.3" width="1.7" height="1.7" opacity="0.60"/><rect x="70.0" y="1081.3" width="1.7" height="1.7" opacity="0.60"/><rect x="72.5" y="1081.3" width="1.7" height="1.7" opacity="0.60"/><rect x="75.0" y="1081.3" width="1.7" height="1.7" opacity="0.60"/><rect x="80.0" y="1081.3" width="1.7" height="1.7" opacity="0.60"/><rect x="82.5" y="1081.3" width="1.7" height="1.7" opacity="0.60"/><rect x="85.0" y="1081.3" width="1.7" height="1.7" opacity="0.60"/><rect x="87.5" y="1081.3" width="1.7" height="1.7" opacity="0.60"/><rect x="97.5" y="1081.3" width="1.7" height="1.7" opacity="0.60"/><rect x="100.0" y="1081.3" width="1.7" height="1.7" opacity="0.60"/><rect x="102.5" y="1081.3" width="1.7" height="1.7" opacity="0.60"/><rect x="105.0" y="1081.3" width="1.7" height="1.7" opacity="0.60"/><rect x="107.5" y="1081.3" width="1.7" height="1.7" opacity="0.60"/><rect x="110.0" y="1081.3" width="1.7" height="1.7" opacity="0.60"/><rect x="112.5" y="1081.3" width="1.7" height="1.7" opacity="0.60"/><rect x="55.0" y="1083.8" width="1.7" height="1.7" opacity="0.60"/><rect x="57.5" y="1083.8" width="1.7" height="1.7" opacity="0.60"/><rect x="60.0" y="1083.8" width="1.7" height="1.7" opacity="0.60"/><rect x="62.5" y="1083.8" width="1.7" height="1.7" opacity="0.60"/><rect x="70.0" y="1083.8" width="1.7" height="1.7" opacity="0.60"/><rect x="72.5" y="1083.8" width="1.7" height="1.7" opacity="0.60"/><rect x="75.0" y="1083.8" width="1.7" height="1.7" opacity="0.60"/><rect x="77.5" y="1083.8" width="1.7" height="1.7" opacity="0.60"/><rect x="82.5" y="1083.8" width="1.7" height="1.7" opacity="0.60"/><rect x="85.0" y="1083.8" width="1.7" height="1.7" opacity="0.60"/><rect x="87.5" y="1083.8" width="1.7" height="1.7" opacity="0.60"/><rect x="97.5" y="1083.8" width="1.7" height="1.7" opacity="0.60"/><rect x="100.0" y="1083.8" width="1.7" height="1.7" opacity="0.60"/><rect x="102.5" y="1083.8" width="1.7" height="1.7" opacity="0.60"/><rect x="105.0" y="1083.8" width="1.7" height="1.7" opacity="0.60"/><rect x="107.5" y="1083.8" width="1.7" height="1.7" opacity="0.60"/><rect x="110.0" y="1083.8" width="1.7" height="1.7" opacity="0.60"/><rect x="112.5" y="1083.8" width="1.7" height="1.7" opacity="0.60"/><rect x="115.0" y="1083.8" width="1.7" height="1.7" opacity="0.60"/><rect x="117.5" y="1083.8" width="1.7" height="1.7" opacity="0.60"/><rect x="57.5" y="1086.3" width="1.7" height="1.7" opacity="0.60"/><rect x="60.0" y="1086.3" width="1.7" height="1.7" opacity="0.60"/><rect x="62.5" y="1086.3" width="1.7" height="1.7" opacity="0.60"/><rect x="65.0" y="1086.3" width="1.7" height="1.7" opacity="0.60"/><rect x="67.5" y="1086.3" width="1.7" height="1.7" opacity="0.60"/><rect x="70.0" y="1086.3" width="1.7" height="1.7" opacity="0.60"/><rect x="72.5" y="1086.3" width="1.7" height="1.7" opacity="0.60"/><rect x="75.0" y="1086.3" width="1.7" height="1.7" opacity="0.60"/><rect x="77.5" y="1086.3" width="1.7" height="1.7" opacity="0.60"/><rect x="80.0" y="1086.3" width="1.7" height="1.7" opacity="0.60"/><rect x="82.5" y="1086.3" width="1.7" height="1.7" opacity="0.60"/><rect x="85.0" y="1086.3" width="1.7" height="1.7" opacity="0.60"/><rect x="87.5" y="1086.3" width="1.7" height="1.7" opacity="0.60"/><rect x="97.5" y="1086.3" width="1.7" height="1.7" opacity="0.60"/><rect x="100.0" y="1086.3" width="1.7" height="1.7" opacity="0.60"/><rect x="102.5" y="1086.3" width="1.7" height="1.7" opacity="0.60"/><rect x="105.0" y="1086.3" width="1.7" height="1.7" opacity="0.60"/><rect x="107.5" y="1086.3" width="1.7" height="1.7" opacity="0.60"/><rect x="112.5" y="1086.3" width="1.7" height="1.7" opacity="0.60"/><rect x="115.0" y="1086.3" width="1.7" height="1.7" opacity="0.60"/><rect x="117.5" y="1086.3" width="1.7" height="1.7" opacity="0.60"/><rect x="120.0" y="1086.3" width="1.7" height="1.7" opacity="0.60"/><rect x="55.0" y="1088.8" width="1.7" height="1.7" opacity="0.60"/><rect x="57.5" y="1088.8" width="1.7" height="1.7" opacity="0.60"/><rect x="60.0" y="1088.8" width="1.7" height="1.7" opacity="0.60"/><rect x="62.5" y="1088.8" width="1.7" height="1.7" opacity="0.60"/><rect x="65.0" y="1088.8" width="1.7" height="1.7" opacity="0.60"/><rect x="70.0" y="1088.8" width="1.7" height="1.7" opacity="0.60"/><rect x="72.5" y="1088.8" width="1.7" height="1.7" opacity="0.60"/><rect x="75.0" y="1088.8" width="1.7" height="1.7" opacity="0.60"/><rect x="77.5" y="1088.8" width="1.7" height="1.7" opacity="0.60"/><rect x="80.0" y="1088.8" width="1.7" height="1.7" opacity="0.60"/><rect x="82.5" y="1088.8" width="1.7" height="1.7" opacity="0.60"/><rect x="85.0" y="1088.8" width="1.7" height="1.7" opacity="0.60"/><rect x="87.5" y="1088.8" width="1.7" height="1.7" opacity="0.60"/><rect x="97.5" y="1088.8" width="1.7" height="1.7" opacity="0.60"/><rect x="100.0" y="1088.8" width="1.7" height="1.7" opacity="0.60"/><rect x="102.5" y="1088.8" width="1.7" height="1.7" opacity="0.60"/><rect x="105.0" y="1088.8" width="1.7" height="1.7" opacity="0.60"/><rect x="107.5" y="1088.8" width="1.7" height="1.7" opacity="0.60"/><rect x="110.0" y="1088.8" width="1.7" height="1.7" opacity="0.60"/><rect x="112.5" y="1088.8" width="1.7" height="1.7" opacity="0.60"/><rect x="115.0" y="1088.8" width="1.7" height="1.7" opacity="0.60"/><rect x="117.5" y="1088.8" width="1.7" height="1.7" opacity="0.60"/><rect x="120.0" y="1088.8" width="1.7" height="1.7" opacity="0.60"/></g>
<defs><radialGradient id="glow"><stop offset="0" stop-color="#ffffff" stop-opacity="0.8"/><stop offset="1" stop-color="#ffffff" stop-opacity="0"/></radialGradient></defs>
<circle cx="62.5" cy="1084" r="7" fill="url(#glow)"/>
</svg></body></html>
